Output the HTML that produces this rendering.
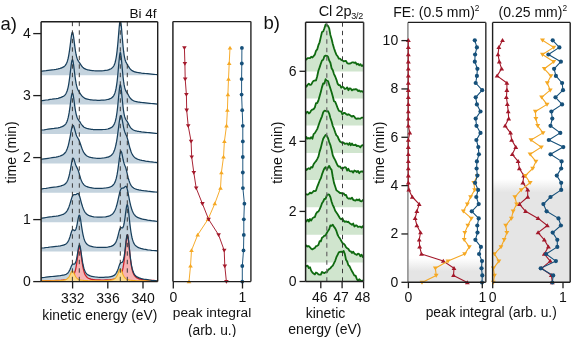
<!DOCTYPE html>
<html><head><meta charset="utf-8"><style>
html,body{margin:0;padding:0;background:#fff;width:571px;height:337px;overflow:hidden}
svg{display:block;will-change:transform}
</style></head><body>
<svg width="571" height="337" viewBox="0 0 571 337">
<rect width="571" height="337" fill="#fff"/>
<g font-family='"Liberation Sans", sans-serif' fill="#111">
<clipPath id="c1"><rect x="41.1" y="21.8" width="116.60" height="259.80"/></clipPath>
<g clip-path="url(#c1)">
<path d="M40.1,71.5 42.1,71.2 44.1,70.9 46.1,70.7 48.1,70.4 50.1,70.1 52.1,69.8 54.1,69.6 56.1,69.3 58.1,68.9 60.1,68.4 60.6,68.2 61.1,68.1 61.6,67.9 62.1,67.7 62.6,67.4 63.1,67.2 63.6,66.9 64.1,66.6 64.6,66.1 65.1,65.6 65.6,65 66.1,64.2 66.6,63.2 67.1,62 67.6,60.4 68.1,58.5 68.6,56.1 69.1,53.2 69.6,49.9 70.1,46.1 70.6,42 71.1,38 71.6,34.6 72.1,32.6 72.6,32.3 73.1,34 73.6,37 74.1,40.8 74.6,44.8 75.1,48.5 75.6,51.8 76.1,54.5 76.6,56.7 77.1,58.4 77.6,59.7 78.1,60.7 78.6,61.5 79.1,62.2 79.6,62.9 80.1,63.6 80.6,64.4 81.1,65.2 81.6,65.9 82.1,66.5 82.6,67.1 83.1,67.6 83.6,68 84.1,68.4 84.6,68.7 85.1,68.9 85.6,69.2 86.1,69.3 86.6,69.5 87.1,69.7 87.6,69.8 88.1,69.9 88.6,70 89.1,70.1 89.6,70.2 90.1,70.3 90.6,70.4 91.1,70.4 91.6,70.5 92.1,70.5 92.6,70.6 93.1,70.6 93.6,70.7 95.6,70.8 97.6,70.9 99.6,70.8 101.6,70.8 103.6,70.7 105.6,70.4 107.6,70.1 108.1,69.9 108.6,69.8 109.1,69.6 109.6,69.4 110.1,69.2 110.6,69 111.1,68.7 111.6,68.3 112.1,67.9 112.6,67.4 113.1,66.8 113.6,66.1 114.1,65.2 114.6,64 115.1,62.5 115.6,60.5 116.1,58 116.6,54.8 117.1,50.9 117.6,46.1 118.1,40.6 118.6,34.4 119.1,28.3 119.6,23.2 120.1,20.4 120.6,20.7 121.1,24 121.6,29.3 122.1,35.5 122.6,41.4 123.1,46.7 123.6,51.2 124.1,54.8 124.6,57.6 125.1,59.7 125.6,61.2 126.1,62.4 126.6,63.3 127.1,64.1 127.6,64.9 128.1,65.8 128.6,66.6 129.1,67.4 129.6,68.2 130.1,68.8 130.6,69.4 131.1,69.8 131.6,70.3 132.1,70.6 132.6,70.9 133.1,71.2 133.6,71.4 134.1,71.6 134.6,71.8 135.1,71.9 135.6,72.1 136.1,72.2 136.6,72.3 137.1,72.4 137.6,72.5 138.1,72.6 138.6,72.7 139.1,72.7 139.6,72.8 140.1,72.9 140.6,72.9 141.1,73 141.6,73.1 143.6,73.3 145.6,73.5 147.6,73.7 149.6,73.9 151.6,74.1 153.6,74.3 155.6,74.5 157.6,74.7 L157.6,75.2 L40.1,75.2Z" fill="#c4d3de"/>
<path d="M40.1,71.5 42.1,71.2 44.1,70.9 46.1,70.7 48.1,70.4 50.1,70.1 52.1,69.8 54.1,69.6 56.1,69.3 58.1,68.9 60.1,68.4 60.6,68.2 61.1,68.1 61.6,67.9 62.1,67.7 62.6,67.4 63.1,67.2 63.6,66.9 64.1,66.6 64.6,66.1 65.1,65.6 65.6,65 66.1,64.2 66.6,63.2 67.1,62 67.6,60.4 68.1,58.5 68.6,56.1 69.1,53.2 69.6,49.9 70.1,46.1 70.6,42 71.1,38 71.6,34.6 72.1,32.6 72.6,32.3 73.1,34 73.6,37 74.1,40.8 74.6,44.8 75.1,48.5 75.6,51.8 76.1,54.5 76.6,56.7 77.1,58.4 77.6,59.7 78.1,60.7 78.6,61.5 79.1,62.2 79.6,62.9 80.1,63.6 80.6,64.4 81.1,65.2 81.6,65.9 82.1,66.5 82.6,67.1 83.1,67.6 83.6,68 84.1,68.4 84.6,68.7 85.1,68.9 85.6,69.2 86.1,69.3 86.6,69.5 87.1,69.7 87.6,69.8 88.1,69.9 88.6,70 89.1,70.1 89.6,70.2 90.1,70.3 90.6,70.4 91.1,70.4 91.6,70.5 92.1,70.5 92.6,70.6 93.1,70.6 93.6,70.7 95.6,70.8 97.6,70.9 99.6,70.8 101.6,70.8 103.6,70.7 105.6,70.4 107.6,70.1 108.1,69.9 108.6,69.8 109.1,69.6 109.6,69.4 110.1,69.2 110.6,69 111.1,68.7 111.6,68.3 112.1,67.9 112.6,67.4 113.1,66.8 113.6,66.1 114.1,65.2 114.6,64 115.1,62.5 115.6,60.5 116.1,58 116.6,54.8 117.1,50.9 117.6,46.1 118.1,40.6 118.6,34.4 119.1,28.3 119.6,23.2 120.1,20.4 120.6,20.7 121.1,24 121.6,29.3 122.1,35.5 122.6,41.4 123.1,46.7 123.6,51.2 124.1,54.8 124.6,57.6 125.1,59.7 125.6,61.2 126.1,62.4 126.6,63.3 127.1,64.1 127.6,64.9 128.1,65.8 128.6,66.6 129.1,67.4 129.6,68.2 130.1,68.8 130.6,69.4 131.1,69.8 131.6,70.3 132.1,70.6 132.6,70.9 133.1,71.2 133.6,71.4 134.1,71.6 134.6,71.8 135.1,71.9 135.6,72.1 136.1,72.2 136.6,72.3 137.1,72.4 137.6,72.5 138.1,72.6 138.6,72.7 139.1,72.7 139.6,72.8 140.1,72.9 140.6,72.9 141.1,73 141.6,73.1 143.6,73.3 145.6,73.5 147.6,73.7 149.6,73.9 151.6,74.1 153.6,74.3 155.6,74.5 157.6,74.7" fill="none" stroke="#183f5c" stroke-width="1.25" stroke-linejoin="round"/>
<path d="M40.1,100.9 42.1,100.6 44.1,100.3 46.1,100 48.1,99.8 50.1,99.4 52.1,99.2 54.1,98.9 56.1,98.7 58.1,98.3 60.1,97.7 60.6,97.6 61.1,97.4 61.6,97.2 62.1,96.9 62.6,96.7 63.1,96.5 63.6,96.2 64.1,95.8 64.6,95.4 65.1,94.8 65.6,94.1 66.1,93.3 66.6,92.3 67.1,91 67.6,89.3 68.1,87.3 68.6,84.8 69.1,81.7 69.6,78.2 70.1,74.2 70.6,69.9 71.1,65.7 71.6,62.2 72.1,60 72.6,59.8 73.1,61.5 73.6,64.8 74.1,68.8 74.6,73 75.1,77 75.6,80.4 76.1,83.4 76.6,85.7 77.1,87.6 77.6,89 78.1,90.1 78.6,91 79.1,91.8 79.6,92.5 80.1,93.3 80.6,94.1 81.1,94.8 81.6,95.5 82.1,96.1 82.6,96.6 83.1,97.1 83.6,97.5 84.1,97.8 84.6,98.1 85.1,98.4 85.6,98.6 86.1,98.8 86.6,98.9 87.1,99.1 87.6,99.2 88.1,99.3 88.6,99.4 89.1,99.5 89.6,99.6 90.1,99.7 90.6,99.8 91.1,99.8 91.6,99.9 92.1,99.9 92.6,100 93.1,100 93.6,100.1 95.6,100.2 97.6,100.3 99.6,100.3 101.6,100.2 103.6,100.1 105.6,99.9 107.6,99.5 108.1,99.4 108.6,99.3 109.1,99.1 109.6,98.9 110.1,98.7 110.6,98.5 111.1,98.2 111.6,97.9 112.1,97.5 112.6,97.1 113.1,96.5 113.6,95.8 114.1,94.9 114.6,93.8 115.1,92.4 115.6,90.5 116.1,88.2 116.6,85.2 117.1,81.5 117.6,77 118.1,71.7 118.6,65.9 119.1,60.2 119.6,55.3 120.1,52.6 120.6,52.9 121.1,56 121.6,61 122.1,66.8 122.6,72.4 123.1,77.3 123.6,81.4 124.1,84.7 124.6,87.2 125.1,89.1 125.6,90.4 126.1,91.4 126.6,92.1 127.1,92.8 127.6,93.6 128.1,94.5 128.6,95.5 129.1,96.4 129.6,97.2 130.1,97.9 130.6,98.5 131.1,99.1 131.6,99.5 132.1,99.9 132.6,100.2 133.1,100.5 133.6,100.8 134.1,101 134.6,101.2 135.1,101.3 135.6,101.5 136.1,101.6 136.6,101.7 137.1,101.8 137.6,101.9 138.1,102 138.6,102.1 139.1,102.1 139.6,102.2 140.1,102.3 140.6,102.4 141.1,102.4 141.6,102.5 143.6,102.7 145.6,102.9 147.6,103.1 149.6,103.3 151.6,103.5 153.6,103.7 155.6,103.9 157.6,104.1 L157.6,104.6 L40.1,104.6Z" fill="#c4d3de"/>
<path d="M40.1,100.9 42.1,100.6 44.1,100.3 46.1,100 48.1,99.8 50.1,99.4 52.1,99.2 54.1,98.9 56.1,98.7 58.1,98.3 60.1,97.7 60.6,97.6 61.1,97.4 61.6,97.2 62.1,96.9 62.6,96.7 63.1,96.5 63.6,96.2 64.1,95.8 64.6,95.4 65.1,94.8 65.6,94.1 66.1,93.3 66.6,92.3 67.1,91 67.6,89.3 68.1,87.3 68.6,84.8 69.1,81.7 69.6,78.2 70.1,74.2 70.6,69.9 71.1,65.7 71.6,62.2 72.1,60 72.6,59.8 73.1,61.5 73.6,64.8 74.1,68.8 74.6,73 75.1,77 75.6,80.4 76.1,83.4 76.6,85.7 77.1,87.6 77.6,89 78.1,90.1 78.6,91 79.1,91.8 79.6,92.5 80.1,93.3 80.6,94.1 81.1,94.8 81.6,95.5 82.1,96.1 82.6,96.6 83.1,97.1 83.6,97.5 84.1,97.8 84.6,98.1 85.1,98.4 85.6,98.6 86.1,98.8 86.6,98.9 87.1,99.1 87.6,99.2 88.1,99.3 88.6,99.4 89.1,99.5 89.6,99.6 90.1,99.7 90.6,99.8 91.1,99.8 91.6,99.9 92.1,99.9 92.6,100 93.1,100 93.6,100.1 95.6,100.2 97.6,100.3 99.6,100.3 101.6,100.2 103.6,100.1 105.6,99.9 107.6,99.5 108.1,99.4 108.6,99.3 109.1,99.1 109.6,98.9 110.1,98.7 110.6,98.5 111.1,98.2 111.6,97.9 112.1,97.5 112.6,97.1 113.1,96.5 113.6,95.8 114.1,94.9 114.6,93.8 115.1,92.4 115.6,90.5 116.1,88.2 116.6,85.2 117.1,81.5 117.6,77 118.1,71.7 118.6,65.9 119.1,60.2 119.6,55.3 120.1,52.6 120.6,52.9 121.1,56 121.6,61 122.1,66.8 122.6,72.4 123.1,77.3 123.6,81.4 124.1,84.7 124.6,87.2 125.1,89.1 125.6,90.4 126.1,91.4 126.6,92.1 127.1,92.8 127.6,93.6 128.1,94.5 128.6,95.5 129.1,96.4 129.6,97.2 130.1,97.9 130.6,98.5 131.1,99.1 131.6,99.5 132.1,99.9 132.6,100.2 133.1,100.5 133.6,100.8 134.1,101 134.6,101.2 135.1,101.3 135.6,101.5 136.1,101.6 136.6,101.7 137.1,101.8 137.6,101.9 138.1,102 138.6,102.1 139.1,102.1 139.6,102.2 140.1,102.3 140.6,102.4 141.1,102.4 141.6,102.5 143.6,102.7 145.6,102.9 147.6,103.1 149.6,103.3 151.6,103.5 153.6,103.7 155.6,103.9 157.6,104.1" fill="none" stroke="#183f5c" stroke-width="1.25" stroke-linejoin="round"/>
<path d="M40.1,130.3 42.1,130 44.1,129.8 46.1,129.5 48.1,129.2 50.1,128.9 52.1,128.6 54.1,128.4 56.1,128.1 58.1,127.8 60.1,127.3 60.6,127.1 61.1,127 61.6,126.8 62.1,126.6 62.6,126.4 63.1,126.1 63.6,125.9 64.1,125.5 64.6,125.1 65.1,124.7 65.6,124.1 66.1,123.3 66.6,122.4 67.1,121.2 67.6,119.7 68.1,117.9 68.6,115.6 69.1,112.9 69.6,109.7 70.1,106.1 70.6,102.2 71.1,98.4 71.6,95.2 72.1,93.3 72.6,93 73.1,94.6 73.6,97.5 74.1,101.1 74.6,104.8 75.1,108.3 75.6,111.3 76.1,113.8 76.6,115.8 77.1,117.4 77.6,118.5 78.1,119.4 78.6,120.1 79.1,120.8 79.6,121.4 80.1,122.2 80.6,123 81.1,123.8 81.6,124.5 82.1,125.2 82.6,125.8 83.1,126.3 83.6,126.8 84.1,127.2 84.6,127.5 85.1,127.7 85.6,128 86.1,128.2 86.6,128.3 87.1,128.5 87.6,128.6 88.1,128.7 88.6,128.8 89.1,128.9 89.6,129 90.1,129.1 90.6,129.2 91.1,129.3 91.6,129.3 92.1,129.4 92.6,129.4 93.1,129.5 93.6,129.5 95.6,129.6 97.6,129.7 99.6,129.7 101.6,129.6 103.6,129.5 105.6,129.3 107.6,129 108.1,128.9 108.6,128.7 109.1,128.6 109.6,128.4 110.1,128.2 110.6,127.9 111.1,127.7 111.6,127.4 112.1,127 112.6,126.5 113.1,126 113.6,125.3 114.1,124.4 114.6,123.3 115.1,121.9 115.6,120.1 116.1,117.9 116.6,115 117.1,111.5 117.6,107.3 118.1,102.4 118.6,97 119.1,91.7 119.6,87.3 120.1,84.9 120.6,85.1 121.1,87.9 121.6,92.4 122.1,97.6 122.6,102.7 123.1,107.3 123.6,111.1 124.1,114.1 124.6,116.4 125.1,118.1 125.6,119.2 126.1,120 126.6,120.7 127.1,121.4 127.6,122.2 128.1,123.1 128.6,124.1 129.1,125.1 129.6,126 130.1,126.9 130.6,127.6 131.1,128.2 131.6,128.7 132.1,129.1 132.6,129.5 133.1,129.8 133.6,130 134.1,130.3 134.6,130.5 135.1,130.7 135.6,130.8 136.1,130.9 136.6,131 137.1,131.2 137.6,131.3 138.1,131.4 138.6,131.4 139.1,131.5 139.6,131.6 140.1,131.7 140.6,131.7 141.1,131.8 141.6,131.9 143.6,132.1 145.6,132.3 147.6,132.5 149.6,132.7 151.6,132.9 153.6,133.1 155.6,133.3 157.6,133.5 L157.6,134 L40.1,134Z" fill="#c4d3de"/>
<path d="M40.1,130.3 42.1,130 44.1,129.8 46.1,129.5 48.1,129.2 50.1,128.9 52.1,128.6 54.1,128.4 56.1,128.1 58.1,127.8 60.1,127.3 60.6,127.1 61.1,127 61.6,126.8 62.1,126.6 62.6,126.4 63.1,126.1 63.6,125.9 64.1,125.5 64.6,125.1 65.1,124.7 65.6,124.1 66.1,123.3 66.6,122.4 67.1,121.2 67.6,119.7 68.1,117.9 68.6,115.6 69.1,112.9 69.6,109.7 70.1,106.1 70.6,102.2 71.1,98.4 71.6,95.2 72.1,93.3 72.6,93 73.1,94.6 73.6,97.5 74.1,101.1 74.6,104.8 75.1,108.3 75.6,111.3 76.1,113.8 76.6,115.8 77.1,117.4 77.6,118.5 78.1,119.4 78.6,120.1 79.1,120.8 79.6,121.4 80.1,122.2 80.6,123 81.1,123.8 81.6,124.5 82.1,125.2 82.6,125.8 83.1,126.3 83.6,126.8 84.1,127.2 84.6,127.5 85.1,127.7 85.6,128 86.1,128.2 86.6,128.3 87.1,128.5 87.6,128.6 88.1,128.7 88.6,128.8 89.1,128.9 89.6,129 90.1,129.1 90.6,129.2 91.1,129.3 91.6,129.3 92.1,129.4 92.6,129.4 93.1,129.5 93.6,129.5 95.6,129.6 97.6,129.7 99.6,129.7 101.6,129.6 103.6,129.5 105.6,129.3 107.6,129 108.1,128.9 108.6,128.7 109.1,128.6 109.6,128.4 110.1,128.2 110.6,127.9 111.1,127.7 111.6,127.4 112.1,127 112.6,126.5 113.1,126 113.6,125.3 114.1,124.4 114.6,123.3 115.1,121.9 115.6,120.1 116.1,117.9 116.6,115 117.1,111.5 117.6,107.3 118.1,102.4 118.6,97 119.1,91.7 119.6,87.3 120.1,84.9 120.6,85.1 121.1,87.9 121.6,92.4 122.1,97.6 122.6,102.7 123.1,107.3 123.6,111.1 124.1,114.1 124.6,116.4 125.1,118.1 125.6,119.2 126.1,120 126.6,120.7 127.1,121.4 127.6,122.2 128.1,123.1 128.6,124.1 129.1,125.1 129.6,126 130.1,126.9 130.6,127.6 131.1,128.2 131.6,128.7 132.1,129.1 132.6,129.5 133.1,129.8 133.6,130 134.1,130.3 134.6,130.5 135.1,130.7 135.6,130.8 136.1,130.9 136.6,131 137.1,131.2 137.6,131.3 138.1,131.4 138.6,131.4 139.1,131.5 139.6,131.6 140.1,131.7 140.6,131.7 141.1,131.8 141.6,131.9 143.6,132.1 145.6,132.3 147.6,132.5 149.6,132.7 151.6,132.9 153.6,133.1 155.6,133.3 157.6,133.5" fill="none" stroke="#183f5c" stroke-width="1.25" stroke-linejoin="round"/>
<path d="M40.1,159.5 42.1,159.2 44.1,158.9 46.1,158.6 48.1,158.3 50.1,158 52.1,157.7 54.1,157.4 56.1,157.1 58.1,156.6 60.1,156 60.6,155.8 61.1,155.6 61.6,155.4 62.1,155.1 62.6,154.9 63.1,154.6 63.6,154.2 64.1,153.8 64.6,153.3 65.1,152.8 65.6,152.1 66.1,151.2 66.6,150.2 67.1,149 67.6,147.6 68.1,146 68.6,144.1 69.1,141.9 69.6,139.5 70.1,136.8 70.6,134 71.1,131.3 71.6,128.8 72.1,126.8 72.6,125.6 73.1,125.3 73.6,125.9 74.1,127.3 74.6,129 75.1,130.9 75.6,132.7 76.1,134.3 76.6,135.7 77.1,136.8 77.6,137.7 78.1,138.5 78.6,139.4 79.1,140.4 79.6,141.6 80.1,143 80.6,144.5 81.1,146 81.6,147.4 82.1,148.8 82.6,150 83.1,151.1 83.6,152.1 84.1,152.9 84.6,153.6 85.1,154.3 85.6,154.8 86.1,155.3 86.6,155.7 87.1,156 87.6,156.3 88.1,156.5 88.6,156.8 89.1,157 89.6,157.1 90.1,157.3 90.6,157.4 91.1,157.5 91.6,157.6 92.1,157.7 92.6,157.8 93.1,157.9 93.6,158 95.6,158.2 97.6,158.3 99.6,158.3 101.6,158.2 103.6,158 105.6,157.7 107.6,157.2 108.1,157.1 108.6,156.9 109.1,156.6 109.6,156.4 110.1,156.1 110.6,155.8 111.1,155.4 111.6,155 112.1,154.4 112.6,153.8 113.1,153.1 113.6,152.2 114.1,151.1 114.6,149.7 115.1,148.1 115.6,146.2 116.1,144 116.6,141.4 117.1,138.3 117.6,134.9 118.1,131.1 118.6,127.1 119.1,123.2 119.6,119.7 120.1,117 120.6,115.6 121.1,115.5 121.6,116.8 122.1,119.1 122.6,121.8 123.1,124.7 123.6,127.3 124.1,129.6 124.6,131.4 125.1,132.8 125.6,133.9 126.1,135 126.6,136.1 127.1,137.5 127.6,139.1 128.1,141 128.6,143 129.1,145.1 129.6,147 130.1,148.8 130.6,150.3 131.1,151.7 131.6,152.9 132.1,154 132.6,154.9 133.1,155.7 133.6,156.3 134.1,156.9 134.6,157.4 135.1,157.8 135.6,158.1 136.1,158.4 136.6,158.7 137.1,159 137.6,159.2 138.1,159.4 138.6,159.5 139.1,159.7 139.6,159.9 140.1,160 140.6,160.1 141.1,160.2 141.6,160.4 143.6,160.7 145.6,161.1 147.6,161.4 149.6,161.7 151.6,161.9 153.6,162.2 155.6,162.4 157.6,162.6 L157.6,163.4 L40.1,163.4Z" fill="#c4d3de"/>
<path d="M40.1,159.5 42.1,159.2 44.1,158.9 46.1,158.6 48.1,158.3 50.1,158 52.1,157.7 54.1,157.4 56.1,157.1 58.1,156.6 60.1,156 60.6,155.8 61.1,155.6 61.6,155.4 62.1,155.1 62.6,154.9 63.1,154.6 63.6,154.2 64.1,153.8 64.6,153.3 65.1,152.8 65.6,152.1 66.1,151.2 66.6,150.2 67.1,149 67.6,147.6 68.1,146 68.6,144.1 69.1,141.9 69.6,139.5 70.1,136.8 70.6,134 71.1,131.3 71.6,128.8 72.1,126.8 72.6,125.6 73.1,125.3 73.6,125.9 74.1,127.3 74.6,129 75.1,130.9 75.6,132.7 76.1,134.3 76.6,135.7 77.1,136.8 77.6,137.7 78.1,138.5 78.6,139.4 79.1,140.4 79.6,141.6 80.1,143 80.6,144.5 81.1,146 81.6,147.4 82.1,148.8 82.6,150 83.1,151.1 83.6,152.1 84.1,152.9 84.6,153.6 85.1,154.3 85.6,154.8 86.1,155.3 86.6,155.7 87.1,156 87.6,156.3 88.1,156.5 88.6,156.8 89.1,157 89.6,157.1 90.1,157.3 90.6,157.4 91.1,157.5 91.6,157.6 92.1,157.7 92.6,157.8 93.1,157.9 93.6,158 95.6,158.2 97.6,158.3 99.6,158.3 101.6,158.2 103.6,158 105.6,157.7 107.6,157.2 108.1,157.1 108.6,156.9 109.1,156.6 109.6,156.4 110.1,156.1 110.6,155.8 111.1,155.4 111.6,155 112.1,154.4 112.6,153.8 113.1,153.1 113.6,152.2 114.1,151.1 114.6,149.7 115.1,148.1 115.6,146.2 116.1,144 116.6,141.4 117.1,138.3 117.6,134.9 118.1,131.1 118.6,127.1 119.1,123.2 119.6,119.7 120.1,117 120.6,115.6 121.1,115.5 121.6,116.8 122.1,119.1 122.6,121.8 123.1,124.7 123.6,127.3 124.1,129.6 124.6,131.4 125.1,132.8 125.6,133.9 126.1,135 126.6,136.1 127.1,137.5 127.6,139.1 128.1,141 128.6,143 129.1,145.1 129.6,147 130.1,148.8 130.6,150.3 131.1,151.7 131.6,152.9 132.1,154 132.6,154.9 133.1,155.7 133.6,156.3 134.1,156.9 134.6,157.4 135.1,157.8 135.6,158.1 136.1,158.4 136.6,158.7 137.1,159 137.6,159.2 138.1,159.4 138.6,159.5 139.1,159.7 139.6,159.9 140.1,160 140.6,160.1 141.1,160.2 141.6,160.4 143.6,160.7 145.6,161.1 147.6,161.4 149.6,161.7 151.6,161.9 153.6,162.2 155.6,162.4 157.6,162.6" fill="none" stroke="#183f5c" stroke-width="1.25" stroke-linejoin="round"/>
<path d="M40.1,189.1 42.1,188.8 44.1,188.5 46.1,188.3 48.1,188 50.1,187.7 52.1,187.4 54.1,187.2 56.1,187 58.1,186.6 60.1,186.2 60.6,186 61.1,185.9 61.6,185.7 62.1,185.5 62.6,185.4 63.1,185.2 63.6,185 64.1,184.7 64.6,184.4 65.1,184 65.6,183.6 66.1,183 66.6,182.3 67.1,181.5 67.6,180.4 68.1,179.2 68.6,177.6 69.1,175.8 69.6,173.7 70.1,171.2 70.6,168.5 71.1,165.6 71.6,162.8 72.1,160.4 72.6,158.8 73.1,158.2 73.6,158.6 74.1,159.8 74.6,161.4 75.1,163.1 75.6,164.6 76.1,165.9 76.6,166.9 77.1,167.9 77.6,168.9 78.1,170.1 78.6,171.6 79.1,173.3 79.6,175.1 80.1,176.8 80.6,178.4 81.1,179.8 81.6,181 82.1,182.1 82.6,183 83.1,183.7 83.6,184.4 84.1,184.9 84.6,185.3 85.1,185.7 85.6,186 86.1,186.3 86.6,186.5 87.1,186.7 87.6,186.9 88.1,187.1 88.6,187.2 89.1,187.3 89.6,187.5 90.1,187.6 90.6,187.7 91.1,187.7 91.6,187.8 92.1,187.9 92.6,188 93.1,188 93.6,188.1 95.6,188.3 97.6,188.3 99.6,188.3 101.6,188.3 103.6,188.2 105.6,188 107.6,187.7 108.1,187.6 108.6,187.5 109.1,187.3 109.6,187.2 110.1,187 110.6,186.8 111.1,186.5 111.6,186.3 112.1,185.9 112.6,185.5 113.1,185.1 113.6,184.5 114.1,183.8 114.6,182.9 115.1,181.9 115.6,180.5 116.1,178.9 116.6,176.8 117.1,174.4 117.6,171.5 118.1,168.2 118.6,164.4 119.1,160.5 119.6,156.7 120.1,153.5 120.6,151.6 121.1,151.2 121.6,152.2 122.1,154.4 122.6,156.9 123.1,159.5 123.6,161.7 124.1,163.4 124.6,164.8 125.1,166.1 125.6,167.4 126.1,169 126.6,171 127.1,173.1 127.6,175.3 128.1,177.4 128.6,179.3 129.1,180.9 129.6,182.3 130.1,183.5 130.6,184.6 131.1,185.4 131.6,186.1 132.1,186.7 132.6,187.2 133.1,187.6 133.6,188 134.1,188.3 134.6,188.5 135.1,188.8 135.6,189 136.1,189.2 136.6,189.3 137.1,189.5 137.6,189.6 138.1,189.7 138.6,189.8 139.1,190 139.6,190.1 140.1,190.1 140.6,190.2 141.1,190.3 141.6,190.4 143.6,190.7 145.6,190.9 147.6,191.2 149.6,191.4 151.6,191.6 153.6,191.8 155.6,192 157.6,192.2 L157.6,192.8 L40.1,192.8Z" fill="#c4d3de"/>
<path d="M40.1,189.1 42.1,188.8 44.1,188.5 46.1,188.3 48.1,188 50.1,187.7 52.1,187.4 54.1,187.2 56.1,187 58.1,186.6 60.1,186.2 60.6,186 61.1,185.9 61.6,185.7 62.1,185.5 62.6,185.4 63.1,185.2 63.6,185 64.1,184.7 64.6,184.4 65.1,184 65.6,183.6 66.1,183 66.6,182.3 67.1,181.5 67.6,180.4 68.1,179.2 68.6,177.6 69.1,175.8 69.6,173.7 70.1,171.2 70.6,168.5 71.1,165.6 71.6,162.8 72.1,160.4 72.6,158.8 73.1,158.2 73.6,158.6 74.1,159.8 74.6,161.4 75.1,163.1 75.6,164.6 76.1,165.9 76.6,166.9 77.1,167.9 77.6,168.9 78.1,170.1 78.6,171.6 79.1,173.3 79.6,175.1 80.1,176.8 80.6,178.4 81.1,179.8 81.6,181 82.1,182.1 82.6,183 83.1,183.7 83.6,184.4 84.1,184.9 84.6,185.3 85.1,185.7 85.6,186 86.1,186.3 86.6,186.5 87.1,186.7 87.6,186.9 88.1,187.1 88.6,187.2 89.1,187.3 89.6,187.5 90.1,187.6 90.6,187.7 91.1,187.7 91.6,187.8 92.1,187.9 92.6,188 93.1,188 93.6,188.1 95.6,188.3 97.6,188.3 99.6,188.3 101.6,188.3 103.6,188.2 105.6,188 107.6,187.7 108.1,187.6 108.6,187.5 109.1,187.3 109.6,187.2 110.1,187 110.6,186.8 111.1,186.5 111.6,186.3 112.1,185.9 112.6,185.5 113.1,185.1 113.6,184.5 114.1,183.8 114.6,182.9 115.1,181.9 115.6,180.5 116.1,178.9 116.6,176.8 117.1,174.4 117.6,171.5 118.1,168.2 118.6,164.4 119.1,160.5 119.6,156.7 120.1,153.5 120.6,151.6 121.1,151.2 121.6,152.2 122.1,154.4 122.6,156.9 123.1,159.5 123.6,161.7 124.1,163.4 124.6,164.8 125.1,166.1 125.6,167.4 126.1,169 126.6,171 127.1,173.1 127.6,175.3 128.1,177.4 128.6,179.3 129.1,180.9 129.6,182.3 130.1,183.5 130.6,184.6 131.1,185.4 131.6,186.1 132.1,186.7 132.6,187.2 133.1,187.6 133.6,188 134.1,188.3 134.6,188.5 135.1,188.8 135.6,189 136.1,189.2 136.6,189.3 137.1,189.5 137.6,189.6 138.1,189.7 138.6,189.8 139.1,190 139.6,190.1 140.1,190.1 140.6,190.2 141.1,190.3 141.6,190.4 143.6,190.7 145.6,190.9 147.6,191.2 149.6,191.4 151.6,191.6 153.6,191.8 155.6,192 157.6,192.2" fill="none" stroke="#183f5c" stroke-width="1.25" stroke-linejoin="round"/>
<path d="M40.1,218.4 42.1,218.1 44.1,217.8 46.1,217.5 48.1,217.2 50.1,216.9 52.1,216.7 54.1,216.4 56.1,216.2 58.1,215.8 60.1,215.3 60.6,215.2 61.1,215 61.6,214.9 62.1,214.7 62.6,214.5 63.1,214.3 63.6,214.1 64.1,213.8 64.6,213.5 65.1,213.1 65.6,212.7 66.1,212.1 66.6,211.5 67.1,210.8 67.6,209.9 68.1,208.9 68.6,207.7 69.1,206.4 69.6,205 70.1,203.4 70.6,201.7 71.1,200 71.6,198.4 72.1,196.9 72.6,195.9 73.1,195.1 73.6,194.8 74.1,194.7 74.6,194.7 75.1,194.7 75.6,194.6 76.1,194.4 76.6,194.1 77.1,193.7 77.6,193.5 78.1,193.5 78.6,194 79.1,194.9 79.6,196.3 80.1,198 80.6,199.9 81.1,201.8 81.6,203.6 82.1,205.3 82.6,206.9 83.1,208.3 83.6,209.5 84.1,210.6 84.6,211.5 85.1,212.3 85.6,212.9 86.1,213.5 86.6,214 87.1,214.4 87.6,214.7 88.1,215.1 88.6,215.3 89.1,215.5 89.6,215.8 90.1,215.9 90.6,216.1 91.1,216.2 91.6,216.4 92.1,216.5 92.6,216.6 93.1,216.7 93.6,216.8 95.6,217 97.6,217.2 99.6,217.2 101.6,217.2 103.6,217 105.6,216.8 107.6,216.4 108.1,216.3 108.6,216.1 109.1,216 109.6,215.8 110.1,215.6 110.6,215.3 111.1,215 111.6,214.7 112.1,214.3 112.6,213.9 113.1,213.3 113.6,212.7 114.1,211.9 114.6,211 115.1,210 115.6,208.8 116.1,207.4 116.6,205.8 117.1,203.9 117.6,201.9 118.1,199.7 118.6,197.4 119.1,195.1 119.6,192.9 120.1,191.1 120.6,189.7 121.1,188.8 121.6,188.3 122.1,188.2 122.6,188.2 123.1,188.1 123.6,187.9 124.1,187.6 124.6,187.1 125.1,186.6 125.6,186.3 126.1,186.4 126.6,187.2 127.1,188.6 127.6,190.6 128.1,193 128.6,195.6 129.1,198.2 129.6,200.8 130.1,203.1 130.6,205.2 131.1,207.1 131.6,208.8 132.1,210.2 132.6,211.5 133.1,212.6 133.6,213.5 134.1,214.3 134.6,214.9 135.1,215.5 135.6,216 136.1,216.4 136.6,216.8 137.1,217.1 137.6,217.4 138.1,217.6 138.6,217.8 139.1,218 139.6,218.2 140.1,218.4 140.6,218.6 141.1,218.7 141.6,218.9 143.6,219.3 145.6,219.7 147.6,220.1 149.6,220.4 151.6,220.7 153.6,220.9 155.6,221.2 157.6,221.4 L157.6,222.2 L40.1,222.2Z" fill="#c4d3de"/>
<path d="M40.1,218.4 42.1,218.1 44.1,217.8 46.1,217.5 48.1,217.2 50.1,216.9 52.1,216.7 54.1,216.4 56.1,216.2 58.1,215.8 60.1,215.3 60.6,215.2 61.1,215 61.6,214.9 62.1,214.7 62.6,214.5 63.1,214.3 63.6,214.1 64.1,213.8 64.6,213.5 65.1,213.1 65.6,212.7 66.1,212.1 66.6,211.5 67.1,210.8 67.6,209.9 68.1,208.9 68.6,207.7 69.1,206.4 69.6,205 70.1,203.4 70.6,201.7 71.1,200 71.6,198.4 72.1,196.9 72.6,195.9 73.1,195.1 73.6,194.8 74.1,194.7 74.6,194.7 75.1,194.7 75.6,194.6 76.1,194.4 76.6,194.1 77.1,193.7 77.6,193.5 78.1,193.5 78.6,194 79.1,194.9 79.6,196.3 80.1,198 80.6,199.9 81.1,201.8 81.6,203.6 82.1,205.3 82.6,206.9 83.1,208.3 83.6,209.5 84.1,210.6 84.6,211.5 85.1,212.3 85.6,212.9 86.1,213.5 86.6,214 87.1,214.4 87.6,214.7 88.1,215.1 88.6,215.3 89.1,215.5 89.6,215.8 90.1,215.9 90.6,216.1 91.1,216.2 91.6,216.4 92.1,216.5 92.6,216.6 93.1,216.7 93.6,216.8 95.6,217 97.6,217.2 99.6,217.2 101.6,217.2 103.6,217 105.6,216.8 107.6,216.4 108.1,216.3 108.6,216.1 109.1,216 109.6,215.8 110.1,215.6 110.6,215.3 111.1,215 111.6,214.7 112.1,214.3 112.6,213.9 113.1,213.3 113.6,212.7 114.1,211.9 114.6,211 115.1,210 115.6,208.8 116.1,207.4 116.6,205.8 117.1,203.9 117.6,201.9 118.1,199.7 118.6,197.4 119.1,195.1 119.6,192.9 120.1,191.1 120.6,189.7 121.1,188.8 121.6,188.3 122.1,188.2 122.6,188.2 123.1,188.1 123.6,187.9 124.1,187.6 124.6,187.1 125.1,186.6 125.6,186.3 126.1,186.4 126.6,187.2 127.1,188.6 127.6,190.6 128.1,193 128.6,195.6 129.1,198.2 129.6,200.8 130.1,203.1 130.6,205.2 131.1,207.1 131.6,208.8 132.1,210.2 132.6,211.5 133.1,212.6 133.6,213.5 134.1,214.3 134.6,214.9 135.1,215.5 135.6,216 136.1,216.4 136.6,216.8 137.1,217.1 137.6,217.4 138.1,217.6 138.6,217.8 139.1,218 139.6,218.2 140.1,218.4 140.6,218.6 141.1,218.7 141.6,218.9 143.6,219.3 145.6,219.7 147.6,220.1 149.6,220.4 151.6,220.7 153.6,220.9 155.6,221.2 157.6,221.4" fill="none" stroke="#183f5c" stroke-width="1.25" stroke-linejoin="round"/>
<path d="M40.1,248.2 42.1,248 44.1,247.8 46.1,247.5 48.1,247.3 50.1,247 52.1,246.8 54.1,246.6 56.1,246.4 58.1,246.2 60.1,245.9 60.6,245.8 61.1,245.7 61.6,245.5 62.1,245.4 62.6,245.3 63.1,245.2 63.6,245.1 64.1,244.9 64.6,244.7 65.1,244.5 65.6,244.2 66.1,243.8 66.6,243.4 67.1,242.9 67.6,242.2 68.1,241.4 68.6,240.5 69.1,239.3 69.6,237.9 70.1,236.4 70.6,234.7 71.1,233 71.6,231.4 72.1,230.3 72.6,229.7 73.1,229.7 73.6,230 74.1,230.4 74.6,230.6 75.1,230.4 75.6,229.8 76.1,228.5 76.6,226.7 77.1,224.3 77.6,221.6 78.1,218.9 78.6,216.6 79.1,215.2 79.6,215.3 80.1,216.9 80.6,219.7 81.1,223 81.6,226.5 82.1,229.7 82.6,232.6 83.1,235.1 83.6,237.2 84.1,239 84.6,240.4 85.1,241.5 85.6,242.4 86.1,243.2 86.6,243.8 87.1,244.3 87.6,244.7 88.1,245 88.6,245.3 89.1,245.6 89.6,245.8 90.1,246 90.6,246.1 91.1,246.3 91.6,246.4 92.1,246.6 92.6,246.7 93.1,246.8 93.6,246.9 95.6,247.2 97.6,247.3 99.6,247.4 101.6,247.4 103.6,247.4 105.6,247.3 107.6,247.1 108.1,247 108.6,246.9 109.1,246.8 109.6,246.7 110.1,246.6 110.6,246.5 111.1,246.3 111.6,246.1 112.1,245.9 112.6,245.7 113.1,245.4 113.6,245 114.1,244.6 114.6,244 115.1,243.4 115.6,242.6 116.1,241.6 116.6,240.4 117.1,239 117.6,237.3 118.1,235.4 118.6,233.4 119.1,231.4 119.6,229.7 120.1,228.4 120.6,227.7 121.1,227.6 121.6,227.8 122.1,227.9 122.6,227.8 123.1,227.1 123.6,225.7 124.1,223.5 124.6,220.6 125.1,217.1 125.6,213.2 126.1,209.3 126.6,206.2 127.1,204.7 127.6,205.2 128.1,207.7 128.6,211.7 129.1,216.4 129.6,221.2 130.1,225.6 130.6,229.5 131.1,232.9 131.6,235.7 132.1,238 132.6,239.9 133.1,241.4 133.6,242.6 134.1,243.6 134.6,244.4 135.1,245.1 135.6,245.6 136.1,246.1 136.6,246.5 137.1,246.8 137.6,247.1 138.1,247.4 138.6,247.6 139.1,247.8 139.6,248 140.1,248.2 140.6,248.4 141.1,248.5 141.6,248.6 143.6,249.1 145.6,249.4 147.6,249.8 149.6,250 151.6,250.3 153.6,250.5 155.6,250.7 157.6,250.9 L157.6,251.6 L40.1,251.6Z" fill="#c4d3de"/>
<path d="M40.1,248.2 42.1,248 44.1,247.8 46.1,247.5 48.1,247.3 50.1,247 52.1,246.8 54.1,246.6 56.1,246.4 58.1,246.2 60.1,245.9 60.6,245.8 61.1,245.7 61.6,245.5 62.1,245.4 62.6,245.3 63.1,245.2 63.6,245.1 64.1,244.9 64.6,244.7 65.1,244.5 65.6,244.2 66.1,243.8 66.6,243.4 67.1,242.9 67.6,242.2 68.1,241.4 68.6,240.5 69.1,239.3 69.6,237.9 70.1,236.4 70.6,234.7 71.1,233 71.6,231.4 72.1,230.3 72.6,229.7 73.1,229.7 73.6,230 74.1,230.4 74.6,230.6 75.1,230.4 75.6,229.8 76.1,228.5 76.6,226.7 77.1,224.3 77.6,221.6 78.1,218.9 78.6,216.6 79.1,215.2 79.6,215.3 80.1,216.9 80.6,219.7 81.1,223 81.6,226.5 82.1,229.7 82.6,232.6 83.1,235.1 83.6,237.2 84.1,239 84.6,240.4 85.1,241.5 85.6,242.4 86.1,243.2 86.6,243.8 87.1,244.3 87.6,244.7 88.1,245 88.6,245.3 89.1,245.6 89.6,245.8 90.1,246 90.6,246.1 91.1,246.3 91.6,246.4 92.1,246.6 92.6,246.7 93.1,246.8 93.6,246.9 95.6,247.2 97.6,247.3 99.6,247.4 101.6,247.4 103.6,247.4 105.6,247.3 107.6,247.1 108.1,247 108.6,246.9 109.1,246.8 109.6,246.7 110.1,246.6 110.6,246.5 111.1,246.3 111.6,246.1 112.1,245.9 112.6,245.7 113.1,245.4 113.6,245 114.1,244.6 114.6,244 115.1,243.4 115.6,242.6 116.1,241.6 116.6,240.4 117.1,239 117.6,237.3 118.1,235.4 118.6,233.4 119.1,231.4 119.6,229.7 120.1,228.4 120.6,227.7 121.1,227.6 121.6,227.8 122.1,227.9 122.6,227.8 123.1,227.1 123.6,225.7 124.1,223.5 124.6,220.6 125.1,217.1 125.6,213.2 126.1,209.3 126.6,206.2 127.1,204.7 127.6,205.2 128.1,207.7 128.6,211.7 129.1,216.4 129.6,221.2 130.1,225.6 130.6,229.5 131.1,232.9 131.6,235.7 132.1,238 132.6,239.9 133.1,241.4 133.6,242.6 134.1,243.6 134.6,244.4 135.1,245.1 135.6,245.6 136.1,246.1 136.6,246.5 137.1,246.8 137.6,247.1 138.1,247.4 138.6,247.6 139.1,247.8 139.6,248 140.1,248.2 140.6,248.4 141.1,248.5 141.6,248.6 143.6,249.1 145.6,249.4 147.6,249.8 149.6,250 151.6,250.3 153.6,250.5 155.6,250.7 157.6,250.9" fill="none" stroke="#183f5c" stroke-width="1.25" stroke-linejoin="round"/>
<path d="M40.1,277.9 42.1,277.7 44.1,277.5 46.1,277.2 48.1,276.9 50.1,276.7 52.1,276.5 54.1,276.3 56.1,276.1 58.1,275.9 60.1,275.7 60.6,275.6 61.1,275.5 61.6,275.4 62.1,275.3 62.6,275.2 63.1,275.2 63.6,275.1 64.1,275 64.6,274.8 65.1,274.7 65.6,274.5 66.1,274.3 66.6,274 67.1,273.6 67.6,273.2 68.1,272.7 68.6,272 69.1,271.2 69.6,270.2 70.1,269.2 70.6,268 71.1,266.7 71.6,265.6 72.1,264.7 72.6,264.2 73.1,264 73.6,264.1 74.1,264.1 74.6,264 75.1,263.4 75.6,262.4 76.1,260.9 76.6,258.8 77.1,256.1 77.6,253.1 78.1,249.9 78.6,247.1 79.1,245.3 79.6,244.9 80.1,246.2 80.6,248.9 81.1,252.3 81.6,255.9 82.1,259.3 82.6,262.4 83.1,265 83.6,267.1 84.1,268.9 84.6,270.3 85.1,271.5 85.6,272.4 86.1,273.1 86.6,273.7 87.1,274.2 87.6,274.6 88.1,274.9 88.6,275.2 89.1,275.4 89.6,275.7 90.1,275.8 90.6,276 91.1,276.2 91.6,276.3 92.1,276.4 92.6,276.5 93.1,276.6 93.6,276.7 95.6,277 97.6,277.2 99.6,277.3 101.6,277.3 103.6,277.3 105.6,277.2 107.6,277.1 108.1,277 108.6,277 109.1,276.9 109.6,276.8 110.1,276.8 110.6,276.7 111.1,276.6 111.6,276.4 112.1,276.3 112.6,276.1 113.1,275.9 113.6,275.7 114.1,275.4 114.6,275 115.1,274.5 115.6,274 116.1,273.3 116.6,272.4 117.1,271.4 117.6,270.2 118.1,268.9 118.6,267.4 119.1,265.9 119.6,264.5 120.1,263.5 120.6,262.9 121.1,262.6 121.6,262.5 122.1,262.3 122.6,261.8 123.1,260.7 123.6,259 124.1,256.6 124.6,253.4 125.1,249.6 125.6,245.2 126.1,240.8 126.6,237.1 127.1,234.9 127.6,234.8 128.1,237.1 128.6,241 129.1,245.9 129.6,250.8 130.1,255.4 130.6,259.5 131.1,263 131.6,265.9 132.1,268.2 132.6,270.1 133.1,271.6 133.6,272.8 134.1,273.8 134.6,274.6 135.1,275.2 135.6,275.7 136.1,276.2 136.6,276.6 137.1,276.9 137.6,277.2 138.1,277.4 138.6,277.7 139.1,277.9 139.6,278.1 140.1,278.2 140.6,278.4 141.1,278.5 141.6,278.7 143.6,279.1 145.6,279.4 147.6,279.7 149.6,280 151.6,280.3 153.6,280.5 155.6,280.7 157.6,281 L157.6,281.6 L40.1,281.6Z" fill="#c4d3de"/>
<path d="M40.1,280.8 42.1,280.8 44.1,280.8 46.1,280.7 48.1,280.7 50.1,280.7 52.1,280.6 54.1,280.6 56.1,280.5 58.1,280.4 60.1,280.3 60.6,280.3 61.1,280.3 61.6,280.2 62.1,280.2 62.6,280.1 63.1,280.1 63.6,280 64.1,280 64.6,279.9 65.1,279.9 65.6,279.8 66.1,279.7 66.6,279.6 67.1,279.5 67.6,279.4 68.1,279.3 68.6,279.1 69.1,278.9 69.6,278.8 70.1,278.5 70.6,278.3 71.1,278 71.6,277.6 72.1,277.2 72.6,276.7 73.1,276 73.6,275.2 74.1,274.2 74.6,272.9 75.1,271.3 75.6,269.3 76.1,266.8 76.6,263.9 77.1,260.5 77.6,256.8 78.1,253 78.6,249.7 79.1,247.5 79.6,246.9 80.1,248.2 80.6,250.9 81.1,254.5 81.6,258.3 82.1,261.9 82.6,265.1 83.1,267.8 83.6,270.1 84.1,271.9 84.6,273.4 85.1,274.6 85.6,275.5 86.1,276.2 86.6,276.8 87.1,277.3 87.6,277.7 88.1,278 88.6,278.3 89.1,278.5 89.6,278.7 90.1,278.9 90.6,279 91.1,279.2 91.6,279.3 92.1,279.4 92.6,279.5 93.1,279.6 93.6,279.6 95.6,279.8 97.6,280 99.6,280 101.6,280.1 103.6,280.1 105.6,280 107.6,279.9 108.1,279.9 108.6,279.9 109.1,279.8 109.6,279.8 110.1,279.8 110.6,279.7 111.1,279.6 111.6,279.6 112.1,279.5 112.6,279.4 113.1,279.3 113.6,279.2 114.1,279.1 114.6,279 115.1,278.9 115.6,278.7 116.1,278.6 116.6,278.4 117.1,278.1 117.6,277.9 118.1,277.6 118.6,277.2 119.1,276.8 119.6,276.3 120.1,275.7 120.6,275 121.1,274.1 121.6,272.9 122.1,271.5 122.6,269.7 123.1,267.4 123.6,264.5 124.1,261.1 124.6,257 125.1,252.4 125.6,247.3 126.1,242.2 126.6,238 127.1,235.4 127.6,235.1 128.1,237.3 128.6,241.3 129.1,246.3 129.6,251.4 130.1,256.2 130.6,260.4 131.1,263.9 131.6,266.9 132.1,269.3 132.6,271.2 133.1,272.7 133.6,273.9 134.1,274.9 134.6,275.7 135.1,276.3 135.6,276.8 136.1,277.2 136.6,277.6 137.1,277.9 137.6,278.2 138.1,278.4 138.6,278.6 139.1,278.8 139.6,279 140.1,279.1 140.6,279.2 141.1,279.4 141.6,279.5 143.6,279.8 145.6,280 147.6,280.2 149.6,280.3 151.6,280.4 153.6,280.5 155.6,280.6 157.6,280.6 L157.6,281.6 L40.1,281.6Z" fill="#f7b3b3" stroke="#cc2229" stroke-width="1.3"/>
<path d="M40.1,280.9 42.1,280.9 44.1,280.9 46.1,280.9 48.1,280.9 50.1,280.9 52.1,280.8 54.1,280.8 56.1,280.7 58.1,280.7 60.1,280.6 60.6,280.5 61.1,280.5 61.6,280.4 62.1,280.4 62.6,280.3 63.1,280.3 63.6,280.2 64.1,280.1 64.6,280 65.1,279.9 65.6,279.7 66.1,279.5 66.6,279.2 67.1,278.9 67.6,278.5 68.1,278 68.6,277.4 69.1,276.7 69.6,275.8 70.1,274.8 70.6,273.7 71.1,272.6 71.6,271.6 72.1,271.1 72.6,271 73.1,271.5 73.6,272.4 74.1,273.4 74.6,274.5 75.1,275.6 75.6,276.5 76.1,277.3 76.6,277.9 77.1,278.4 77.6,278.8 78.1,279.2 78.6,279.4 79.1,279.6 79.6,279.8 80.1,279.9 80.6,280.1 81.1,280.1 81.6,280.2 82.1,280.3 82.6,280.3 83.1,280.4 83.6,280.4 84.1,280.5 84.6,280.5 85.1,280.5 85.6,280.6 86.1,280.6 86.6,280.6 87.1,280.6 87.6,280.6 88.1,280.7 88.6,280.7 89.1,280.7 89.6,280.7 90.1,280.7 90.6,280.7 91.1,280.7 91.6,280.7 92.1,280.7 92.6,280.7 93.1,280.7 93.6,280.7 95.6,280.7 97.6,280.7 99.6,280.7 101.6,280.7 103.6,280.7 105.6,280.6 107.6,280.5 108.1,280.4 108.6,280.4 109.1,280.3 109.6,280.3 110.1,280.2 110.6,280.2 111.1,280.1 111.6,280 112.1,279.9 112.6,279.7 113.1,279.6 113.6,279.4 114.1,279.1 114.6,278.8 115.1,278.4 115.6,277.9 116.1,277.3 116.6,276.5 117.1,275.6 117.6,274.5 118.1,273.3 118.6,271.9 119.1,270.6 119.6,269.6 120.1,269 120.6,269.1 121.1,269.8 121.6,270.9 122.1,272.2 122.6,273.5 123.1,274.7 123.6,275.8 124.1,276.7 124.6,277.5 125.1,278 125.6,278.5 126.1,278.9 126.6,279.2 127.1,279.4 127.6,279.6 128.1,279.8 128.6,279.9 129.1,280 129.6,280.1 130.1,280.2 130.6,280.3 131.1,280.3 131.6,280.4 132.1,280.4 132.6,280.5 133.1,280.5 133.6,280.5 134.1,280.6 134.6,280.6 135.1,280.6 135.6,280.7 136.1,280.7 136.6,280.7 137.1,280.7 137.6,280.7 138.1,280.7 138.6,280.7 139.1,280.8 139.6,280.8 140.1,280.8 140.6,280.8 141.1,280.8 141.6,280.8 143.6,280.8 145.6,280.9 147.6,280.9 149.6,280.9 151.6,280.9 153.6,280.9 155.6,280.9 157.6,280.9 L157.6,281.6 L40.1,281.6Z" fill="#fbd98c" stroke="#f2ad22" stroke-width="1.1"/>
<path d="M40.1,277.9 42.1,277.7 44.1,277.5 46.1,277.2 48.1,276.9 50.1,276.7 52.1,276.5 54.1,276.3 56.1,276.1 58.1,275.9 60.1,275.7 60.6,275.6 61.1,275.5 61.6,275.4 62.1,275.3 62.6,275.2 63.1,275.2 63.6,275.1 64.1,275 64.6,274.8 65.1,274.7 65.6,274.5 66.1,274.3 66.6,274 67.1,273.6 67.6,273.2 68.1,272.7 68.6,272 69.1,271.2 69.6,270.2 70.1,269.2 70.6,268 71.1,266.7 71.6,265.6 72.1,264.7 72.6,264.2 73.1,264 73.6,264.1 74.1,264.1 74.6,264 75.1,263.4 75.6,262.4 76.1,260.9 76.6,258.8 77.1,256.1 77.6,253.1 78.1,249.9 78.6,247.1 79.1,245.3 79.6,244.9 80.1,246.2 80.6,248.9 81.1,252.3 81.6,255.9 82.1,259.3 82.6,262.4 83.1,265 83.6,267.1 84.1,268.9 84.6,270.3 85.1,271.5 85.6,272.4 86.1,273.1 86.6,273.7 87.1,274.2 87.6,274.6 88.1,274.9 88.6,275.2 89.1,275.4 89.6,275.7 90.1,275.8 90.6,276 91.1,276.2 91.6,276.3 92.1,276.4 92.6,276.5 93.1,276.6 93.6,276.7 95.6,277 97.6,277.2 99.6,277.3 101.6,277.3 103.6,277.3 105.6,277.2 107.6,277.1 108.1,277 108.6,277 109.1,276.9 109.6,276.8 110.1,276.8 110.6,276.7 111.1,276.6 111.6,276.4 112.1,276.3 112.6,276.1 113.1,275.9 113.6,275.7 114.1,275.4 114.6,275 115.1,274.5 115.6,274 116.1,273.3 116.6,272.4 117.1,271.4 117.6,270.2 118.1,268.9 118.6,267.4 119.1,265.9 119.6,264.5 120.1,263.5 120.6,262.9 121.1,262.6 121.6,262.5 122.1,262.3 122.6,261.8 123.1,260.7 123.6,259 124.1,256.6 124.6,253.4 125.1,249.6 125.6,245.2 126.1,240.8 126.6,237.1 127.1,234.9 127.6,234.8 128.1,237.1 128.6,241 129.1,245.9 129.6,250.8 130.1,255.4 130.6,259.5 131.1,263 131.6,265.9 132.1,268.2 132.6,270.1 133.1,271.6 133.6,272.8 134.1,273.8 134.6,274.6 135.1,275.2 135.6,275.7 136.1,276.2 136.6,276.6 137.1,276.9 137.6,277.2 138.1,277.4 138.6,277.7 139.1,277.9 139.6,278.1 140.1,278.2 140.6,278.4 141.1,278.5 141.6,278.7 143.6,279.1 145.6,279.4 147.6,279.7 149.6,280 151.6,280.3 153.6,280.5 155.6,280.7 157.6,281" fill="none" stroke="#183f5c" stroke-width="1.25" stroke-linejoin="round"/>
</g>
<line x1="72.4" y1="21.8" x2="72.4" y2="281.6" stroke="#333" stroke-width="0.95" stroke-dasharray="4.4,4.1"/>
<line x1="79.3" y1="21.8" x2="79.3" y2="281.6" stroke="#333" stroke-width="0.95" stroke-dasharray="4.4,4.1"/>
<line x1="120.3" y1="21.8" x2="120.3" y2="281.6" stroke="#333" stroke-width="0.95" stroke-dasharray="4.4,4.1"/>
<line x1="127.3" y1="21.8" x2="127.3" y2="281.6" stroke="#333" stroke-width="0.95" stroke-dasharray="4.4,4.1"/>
<line x1="41.1" y1="21.8" x2="157.7" y2="21.8" stroke="#1e1e1e" stroke-width="1.4" />
<line x1="41.1" y1="281.6" x2="157.7" y2="281.6" stroke="#1e1e1e" stroke-width="1.4" />
<line x1="41.1" y1="21.8" x2="41.1" y2="281.6" stroke="#1e1e1e" stroke-width="1.5" />
<line x1="157.7" y1="21.8" x2="157.7" y2="281.6" stroke="#1e1e1e" stroke-width="1.4" />
<line x1="33.2" y1="281.6" x2="41.1" y2="281.6" stroke="#1e1e1e" stroke-width="1.3" />
<text x="30.80" y="285.50" font-size="14" text-anchor="end" >0</text>
<line x1="33.2" y1="219.60000000000002" x2="41.1" y2="219.60000000000002" stroke="#1e1e1e" stroke-width="1.3" />
<text x="30.80" y="223.50" font-size="14" text-anchor="end" >1</text>
<line x1="33.2" y1="157.60000000000002" x2="41.1" y2="157.60000000000002" stroke="#1e1e1e" stroke-width="1.3" />
<text x="30.80" y="161.50" font-size="14" text-anchor="end" >2</text>
<line x1="33.2" y1="95.60000000000002" x2="41.1" y2="95.60000000000002" stroke="#1e1e1e" stroke-width="1.3" />
<text x="30.80" y="99.50" font-size="14" text-anchor="end" >3</text>
<line x1="33.2" y1="33.60000000000002" x2="41.1" y2="33.60000000000002" stroke="#1e1e1e" stroke-width="1.3" />
<text x="30.80" y="37.50" font-size="14" text-anchor="end" >4</text>
<line x1="72.6" y1="281.6" x2="72.6" y2="288.5" stroke="#1e1e1e" stroke-width="1.3" />
<text x="72.80" y="302.60" font-size="14" text-anchor="middle" >332</text>
<line x1="107.8" y1="281.6" x2="107.8" y2="288.5" stroke="#1e1e1e" stroke-width="1.3" />
<text x="108.00" y="302.60" font-size="14" text-anchor="middle" >336</text>
<line x1="143.0" y1="281.6" x2="143.0" y2="288.5" stroke="#1e1e1e" stroke-width="1.3" />
<text x="143.20" y="302.60" font-size="14" text-anchor="middle" >340</text>
<text x="99.80" y="319.60" font-size="13.8" text-anchor="middle" >kinetic energy (eV)</text>
<text x="0.00" y="0.00" font-size="14" text-anchor="middle" transform="translate(15.6,152.4) rotate(-90)">time (min)</text>
<text x="0.40" y="29.60" font-size="18.5" text-anchor="start" >a)</text>
<text x="156.60" y="17.60" font-size="13.6" text-anchor="end" >Bi 4f</text>
<path d="M189,281.6 190.5,266 191.5,250.4 197.7,234.9 208,219.3 214.8,203.7 220.5,188.1 221.4,172.5 223.5,157 224.4,141.4 226.5,125.8 227.4,110.2 227.9,94.6 228.5,79.1 229.2,63.5 230,47.9" fill="none" stroke="#f5a823" stroke-width="0.95" stroke-linejoin="round"/>
<path d="M189,279.4 L191.3,283.2 L186.7,283.2Z" fill="#f5a823"/>
<path d="M190.5,263.8 L192.8,267.6 L188.2,267.6Z" fill="#f5a823"/>
<path d="M191.5,248.3 L193.8,252.1 L189.2,252.1Z" fill="#f5a823"/>
<path d="M197.7,232.7 L200,236.5 L195.4,236.5Z" fill="#f5a823"/>
<path d="M208,217.1 L210.3,220.9 L205.7,220.9Z" fill="#f5a823"/>
<path d="M214.8,201.5 L217.1,205.3 L212.5,205.3Z" fill="#f5a823"/>
<path d="M220.5,185.9 L222.8,189.7 L218.2,189.7Z" fill="#f5a823"/>
<path d="M221.4,170.4 L223.7,174.2 L219.1,174.2Z" fill="#f5a823"/>
<path d="M223.5,154.8 L225.8,158.6 L221.2,158.6Z" fill="#f5a823"/>
<path d="M224.4,139.2 L226.7,143 L222.1,143Z" fill="#f5a823"/>
<path d="M226.5,123.6 L228.8,127.4 L224.2,127.4Z" fill="#f5a823"/>
<path d="M227.4,108 L229.7,111.8 L225.1,111.8Z" fill="#f5a823"/>
<path d="M227.9,92.5 L230.2,96.3 L225.6,96.3Z" fill="#f5a823"/>
<path d="M228.5,76.9 L230.8,80.7 L226.2,80.7Z" fill="#f5a823"/>
<path d="M229.2,61.3 L231.5,65.1 L226.9,65.1Z" fill="#f5a823"/>
<path d="M230,45.7 L232.3,49.5 L227.7,49.5Z" fill="#f5a823"/>
<path d="M226.4,281.6 224.8,266 224.2,250.4 218.6,234.9 208.6,219.3 202.4,203.7 196.2,188.1 193.8,172.5 191.7,157 191.1,141.4 188.2,125.8 186.7,110.2 186.4,94.6 185.2,79.1 184.9,63.5 184.4,47.9" fill="none" stroke="#a3182a" stroke-width="0.95" stroke-linejoin="round"/>
<path d="M226.4,283.8 L228.7,280 L224.1,280Z" fill="#a3182a"/>
<path d="M224.8,268.2 L227.1,264.4 L222.5,264.4Z" fill="#a3182a"/>
<path d="M224.2,252.6 L226.5,248.8 L221.9,248.8Z" fill="#a3182a"/>
<path d="M218.6,237 L220.9,233.2 L216.3,233.2Z" fill="#a3182a"/>
<path d="M208.6,221.5 L210.9,217.7 L206.3,217.7Z" fill="#a3182a"/>
<path d="M202.4,205.9 L204.7,202.1 L200.1,202.1Z" fill="#a3182a"/>
<path d="M196.2,190.3 L198.5,186.5 L193.9,186.5Z" fill="#a3182a"/>
<path d="M193.8,174.7 L196.1,170.9 L191.5,170.9Z" fill="#a3182a"/>
<path d="M191.7,159.1 L194,155.4 L189.4,155.4Z" fill="#a3182a"/>
<path d="M191.1,143.6 L193.4,139.8 L188.8,139.8Z" fill="#a3182a"/>
<path d="M188.2,128 L190.5,124.2 L185.9,124.2Z" fill="#a3182a"/>
<path d="M186.7,112.4 L189,108.6 L184.4,108.6Z" fill="#a3182a"/>
<path d="M186.4,96.8 L188.7,93 L184.1,93Z" fill="#a3182a"/>
<path d="M185.2,81.2 L187.5,77.5 L182.9,77.5Z" fill="#a3182a"/>
<path d="M184.9,65.7 L187.2,61.9 L182.6,61.9Z" fill="#a3182a"/>
<path d="M184.4,50.1 L186.7,46.3 L182.1,46.3Z" fill="#a3182a"/>
<path d="M242.3,281.6 242.3,266 243.5,250.4 243.8,234.9 243.8,219.3 244.4,203.7 242.9,188.1 242.8,172.5 242.8,157 242.8,141.4 242.8,125.8 242.2,110.2 241.6,94.6 241.6,79.1 241.8,63.5 241.9,47.9" fill="none" stroke="#16507a" stroke-width="0.95" stroke-linejoin="round"/>
<circle cx="242.3" cy="281.6" r="1.9" fill="#16507a"/>
<circle cx="242.3" cy="266" r="1.9" fill="#16507a"/>
<circle cx="243.5" cy="250.4" r="1.9" fill="#16507a"/>
<circle cx="243.8" cy="234.9" r="1.9" fill="#16507a"/>
<circle cx="243.8" cy="219.3" r="1.9" fill="#16507a"/>
<circle cx="244.4" cy="203.7" r="1.9" fill="#16507a"/>
<circle cx="242.9" cy="188.1" r="1.9" fill="#16507a"/>
<circle cx="242.8" cy="172.5" r="1.9" fill="#16507a"/>
<circle cx="242.8" cy="157" r="1.9" fill="#16507a"/>
<circle cx="242.8" cy="141.4" r="1.9" fill="#16507a"/>
<circle cx="242.8" cy="125.8" r="1.9" fill="#16507a"/>
<circle cx="242.2" cy="110.2" r="1.9" fill="#16507a"/>
<circle cx="241.6" cy="94.6" r="1.9" fill="#16507a"/>
<circle cx="241.6" cy="79.1" r="1.9" fill="#16507a"/>
<circle cx="241.8" cy="63.5" r="1.9" fill="#16507a"/>
<circle cx="241.9" cy="47.9" r="1.9" fill="#16507a"/>
<line x1="172.9" y1="21.6" x2="250.9" y2="21.6" stroke="#1e1e1e" stroke-width="1.4" />
<line x1="172.9" y1="281.6" x2="250.9" y2="281.6" stroke="#1e1e1e" stroke-width="1.4" />
<line x1="172.9" y1="21.6" x2="172.9" y2="281.6" stroke="#333" stroke-width="1.6" />
<line x1="250.9" y1="21.6" x2="250.9" y2="281.6" stroke="#333" stroke-width="1.5" />
<line x1="173.3" y1="281.6" x2="173.3" y2="288.5" stroke="#1e1e1e" stroke-width="1.3" />
<text x="173.30" y="301.80" font-size="14" text-anchor="middle" >0</text>
<line x1="242.5" y1="281.6" x2="242.5" y2="288.5" stroke="#1e1e1e" stroke-width="1.3" />
<text x="242.50" y="301.80" font-size="14" text-anchor="middle" >1</text>
<text x="212.00" y="317.30" font-size="13.7" text-anchor="middle" >peak integral</text>
<text x="212.10" y="334.90" font-size="13.8" text-anchor="middle" >(arb. u.)</text>
<clipPath id="c3"><rect x="305.6" y="22.3" width="58.00" height="259.20"/></clipPath>
<g clip-path="url(#c3)">
<path d="M304,58.5 305.2,58.7 306.4,59.5 307.6,58.1 308.8,58.1 310,58.1 311.2,56.8 312.4,57.5 313.6,56.1 314.8,54.7 316,50.8 317.2,49.4 318.4,45.2 319.6,42.3 320.8,37.1 322,32 323.2,31.5 324.4,28.3 325.6,24.4 326.8,24.8 328,25.9 329.2,28.4 330.4,35 331.6,39 332.8,44 334,48.2 335.2,51.6 336.4,54.7 337.6,56.2 338.8,58.7 340,58.7 341.2,59.9 342.4,60.4 343.6,61.3 344.8,61 346,60.9 347.2,63.2 348.4,63.6 349.6,63.5 350.8,63.3 352,62.4 353.2,62.4 354.4,62.8 355.6,62.4 356.8,64.5 358,63.7 359.2,65.2 360.4,64.1 361.6,65.9 362.8,65.8 364,63.6 365.2,64.3 L365.2,71.4 L304,71.4Z" fill="#d0e5ce"/>
<path d="M304,58.5 305.2,58.7 306.4,59.5 307.6,58.1 308.8,58.1 310,58.1 311.2,56.8 312.4,57.5 313.6,56.1 314.8,54.7 316,50.8 317.2,49.4 318.4,45.2 319.6,42.3 320.8,37.1 322,32 323.2,31.5 324.4,28.3 325.6,24.4 326.8,24.8 328,25.9 329.2,28.4 330.4,35 331.6,39 332.8,44 334,48.2 335.2,51.6 336.4,54.7 337.6,56.2 338.8,58.7 340,58.7 341.2,59.9 342.4,60.4 343.6,61.3 344.8,61 346,60.9 347.2,63.2 348.4,63.6 349.6,63.5 350.8,63.3 352,62.4 353.2,62.4 354.4,62.8 355.6,62.4 356.8,64.5 358,63.7 359.2,65.2 360.4,64.1 361.6,65.9 362.8,65.8 364,63.6 365.2,64.3" fill="none" stroke="#0f6a10" stroke-width="1.8" stroke-linejoin="round"/>
<path d="M304,86.7 305.2,85.4 306.4,86.7 307.6,84.8 308.8,83.6 310,84.9 311.2,84.6 312.4,82.3 313.6,80.8 314.8,80.5 316,80.4 317.2,76.2 318.4,70.7 319.6,67.4 320.8,63.7 322,60.5 323.2,59.8 324.4,56.2 325.6,55.6 326.8,55.8 328,56.8 329.2,60.5 330.4,62.7 331.6,68.3 332.8,70.3 334,74.1 335.2,76.5 336.4,79.6 337.6,83.6 338.8,85.1 340,85.2 341.2,87.7 342.4,86.6 343.6,87.4 344.8,89 346,88.7 347.2,87.4 348.4,90.2 349.6,88.3 350.8,88.7 352,90.4 353.2,89.4 354.4,89.5 355.6,89.1 356.8,89.4 358,91.1 359.2,90.4 360.4,91.6 361.6,91.2 362.8,91.6 364,93.3 365.2,92.1 L365.2,98.5 L304,98.5Z" fill="#d0e5ce"/>
<path d="M304,86.7 305.2,85.4 306.4,86.7 307.6,84.8 308.8,83.6 310,84.9 311.2,84.6 312.4,82.3 313.6,80.8 314.8,80.5 316,80.4 317.2,76.2 318.4,70.7 319.6,67.4 320.8,63.7 322,60.5 323.2,59.8 324.4,56.2 325.6,55.6 326.8,55.8 328,56.8 329.2,60.5 330.4,62.7 331.6,68.3 332.8,70.3 334,74.1 335.2,76.5 336.4,79.6 337.6,83.6 338.8,85.1 340,85.2 341.2,87.7 342.4,86.6 343.6,87.4 344.8,89 346,88.7 347.2,87.4 348.4,90.2 349.6,88.3 350.8,88.7 352,90.4 353.2,89.4 354.4,89.5 355.6,89.1 356.8,89.4 358,91.1 359.2,90.4 360.4,91.6 361.6,91.2 362.8,91.6 364,93.3 365.2,92.1" fill="none" stroke="#0f6a10" stroke-width="1.8" stroke-linejoin="round"/>
<path d="M304,113.9 305.2,114.6 306.4,112.4 307.6,111.8 308.8,113.4 310,112.6 311.2,110.4 312.4,109.6 313.6,109.1 314.8,107.5 316,103.2 317.2,103 318.4,100.5 319.6,96.3 320.8,91.9 322,87.1 323.2,83.4 324.4,83.5 325.6,79.2 326.8,80.7 328,81 329.2,84.7 330.4,88.5 331.6,92.2 332.8,96.5 334,101.2 335.2,101.8 336.4,104.7 337.6,107.9 338.8,110.7 340,111.3 341.2,111.5 342.4,114.5 343.6,113 344.8,112.9 346,114 347.2,114.9 348.4,114.2 349.6,114.9 350.8,115.8 352,116.7 353.2,115.8 354.4,116.7 355.6,118.4 356.8,118.9 358,118.3 359.2,118.6 360.4,118.6 361.6,117.6 362.8,117.6 364,117.8 365.2,120.4 L365.2,125.5 L304,125.5Z" fill="#d0e5ce"/>
<path d="M304,113.9 305.2,114.6 306.4,112.4 307.6,111.8 308.8,113.4 310,112.6 311.2,110.4 312.4,109.6 313.6,109.1 314.8,107.5 316,103.2 317.2,103 318.4,100.5 319.6,96.3 320.8,91.9 322,87.1 323.2,83.4 324.4,83.5 325.6,79.2 326.8,80.7 328,81 329.2,84.7 330.4,88.5 331.6,92.2 332.8,96.5 334,101.2 335.2,101.8 336.4,104.7 337.6,107.9 338.8,110.7 340,111.3 341.2,111.5 342.4,114.5 343.6,113 344.8,112.9 346,114 347.2,114.9 348.4,114.2 349.6,114.9 350.8,115.8 352,116.7 353.2,115.8 354.4,116.7 355.6,118.4 356.8,118.9 358,118.3 359.2,118.6 360.4,118.6 361.6,117.6 362.8,117.6 364,117.8 365.2,120.4" fill="none" stroke="#0f6a10" stroke-width="1.8" stroke-linejoin="round"/>
<path d="M304,139.2 305.2,139.8 306.4,137 307.6,138.6 308.8,138 310,138.6 311.2,137.2 312.4,138.8 313.6,134.1 314.8,133.1 316,131.1 317.2,129.1 318.4,125.7 319.6,122.2 320.8,119.1 322,116.3 323.2,112.2 324.4,110.7 325.6,110.8 326.8,111.5 328,111.2 329.2,113.6 330.4,118 331.6,121.5 332.8,126 334,128.7 335.2,132.3 336.4,135.3 337.6,136.4 338.8,139.3 340,141.5 341.2,142.3 342.4,143.1 343.6,142.5 344.8,143.8 346,143.6 347.2,143.5 348.4,144.9 349.6,143 350.8,145.2 352,143.4 353.2,145.2 354.4,145.1 355.6,144.6 356.8,146.1 358,145.7 359.2,146.3 360.4,147.3 361.6,145.6 362.8,145.1 364,146.1 365.2,147.3 L365.2,153 L304,153Z" fill="#d0e5ce"/>
<path d="M304,139.2 305.2,139.8 306.4,137 307.6,138.6 308.8,138 310,138.6 311.2,137.2 312.4,138.8 313.6,134.1 314.8,133.1 316,131.1 317.2,129.1 318.4,125.7 319.6,122.2 320.8,119.1 322,116.3 323.2,112.2 324.4,110.7 325.6,110.8 326.8,111.5 328,111.2 329.2,113.6 330.4,118 331.6,121.5 332.8,126 334,128.7 335.2,132.3 336.4,135.3 337.6,136.4 338.8,139.3 340,141.5 341.2,142.3 342.4,143.1 343.6,142.5 344.8,143.8 346,143.6 347.2,143.5 348.4,144.9 349.6,143 350.8,145.2 352,143.4 353.2,145.2 354.4,145.1 355.6,144.6 356.8,146.1 358,145.7 359.2,146.3 360.4,147.3 361.6,145.6 362.8,145.1 364,146.1 365.2,147.3" fill="none" stroke="#0f6a10" stroke-width="1.8" stroke-linejoin="round"/>
<path d="M304,168.4 305.2,168.2 306.4,170 307.6,169 308.8,168.1 310,169 311.2,167 312.4,167.5 313.6,164.2 314.8,162.5 316,161.2 317.2,159.1 318.4,156.7 319.6,151.6 320.8,147.9 322,143 323.2,138.7 324.4,136.7 325.6,134.9 326.8,135.8 328,138.2 329.2,142.1 330.4,145.1 331.6,149.7 332.8,155.4 334,158 335.2,160.1 336.4,162.8 337.6,165.5 338.8,166.6 340,166.5 341.2,168.1 342.4,168.8 343.6,167.8 344.8,167.2 346,167.7 347.2,170.6 348.4,168.8 349.6,171.2 350.8,171.3 352,171.1 353.2,172.6 354.4,170.5 355.6,171 356.8,172 358,170.9 359.2,173.2 360.4,171.7 361.6,171.5 362.8,171.3 364,173.1 365.2,172.7 L365.2,180.1 L304,180.1Z" fill="#d0e5ce"/>
<path d="M304,168.4 305.2,168.2 306.4,170 307.6,169 308.8,168.1 310,169 311.2,167 312.4,167.5 313.6,164.2 314.8,162.5 316,161.2 317.2,159.1 318.4,156.7 319.6,151.6 320.8,147.9 322,143 323.2,138.7 324.4,136.7 325.6,134.9 326.8,135.8 328,138.2 329.2,142.1 330.4,145.1 331.6,149.7 332.8,155.4 334,158 335.2,160.1 336.4,162.8 337.6,165.5 338.8,166.6 340,166.5 341.2,168.1 342.4,168.8 343.6,167.8 344.8,167.2 346,167.7 347.2,170.6 348.4,168.8 349.6,171.2 350.8,171.3 352,171.1 353.2,172.6 354.4,170.5 355.6,171 356.8,172 358,170.9 359.2,173.2 360.4,171.7 361.6,171.5 362.8,171.3 364,173.1 365.2,172.7" fill="none" stroke="#0f6a10" stroke-width="1.8" stroke-linejoin="round"/>
<path d="M304,193.9 305.2,193.9 306.4,194.3 307.6,194.7 308.8,194 310,192.6 311.2,193.4 312.4,192.5 313.6,191 314.8,191.2 316,190.6 317.2,186.8 318.4,183.8 319.6,180.7 320.8,178.4 322,174.4 323.2,171.2 324.4,168.4 325.6,167.2 326.8,169.9 328,167.5 329.2,165.9 330.4,168.4 331.6,169.8 332.8,177 334,182.9 335.2,186.5 336.4,190.2 337.6,191.1 338.8,192 340,193 341.2,193 342.4,193.6 343.6,193.3 344.8,195 346,195 347.2,197.6 348.4,198.6 349.6,198.4 350.8,198.8 352,197.6 353.2,199.8 354.4,200.3 355.6,200.5 356.8,199.5 358,200.4 359.2,199.3 360.4,201.2 361.6,201.3 362.8,200.1 364,199.5 365.2,200.7 L365.2,207.3 L304,207.3Z" fill="#d0e5ce"/>
<path d="M304,193.9 305.2,193.9 306.4,194.3 307.6,194.7 308.8,194 310,192.6 311.2,193.4 312.4,192.5 313.6,191 314.8,191.2 316,190.6 317.2,186.8 318.4,183.8 319.6,180.7 320.8,178.4 322,174.4 323.2,171.2 324.4,168.4 325.6,167.2 326.8,169.9 328,167.5 329.2,165.9 330.4,168.4 331.6,169.8 332.8,177 334,182.9 335.2,186.5 336.4,190.2 337.6,191.1 338.8,192 340,193 341.2,193 342.4,193.6 343.6,193.3 344.8,195 346,195 347.2,197.6 348.4,198.6 349.6,198.4 350.8,198.8 352,197.6 353.2,199.8 354.4,200.3 355.6,200.5 356.8,199.5 358,200.4 359.2,199.3 360.4,201.2 361.6,201.3 362.8,200.1 364,199.5 365.2,200.7" fill="none" stroke="#0f6a10" stroke-width="1.8" stroke-linejoin="round"/>
<path d="M304,221.7 305.2,222.3 306.4,221.2 307.6,219.6 308.8,221.5 310,219 311.2,220.6 312.4,218.4 313.6,217.4 314.8,217.1 316,213.7 317.2,212.1 318.4,211.5 319.6,209.4 320.8,206.7 322,203.3 323.2,201.5 324.4,198.9 325.6,198.9 326.8,195.2 328,194.4 329.2,194.6 330.4,197.1 331.6,201.8 332.8,205.1 334,207.5 335.2,210.8 336.4,212.5 337.6,214.2 338.8,216.2 340,218.4 341.2,219.4 342.4,218.3 343.6,220.8 344.8,221.8 346,221.3 347.2,222.1 348.4,221.7 349.6,223.3 350.8,223.9 352,224.8 353.2,223.5 354.4,226.5 355.6,225.5 356.8,225.5 358,227 359.2,226.6 360.4,226.7 361.6,227.6 362.8,226.1 364,227.7 365.2,227.5 L365.2,234.7 L304,234.7Z" fill="#d0e5ce"/>
<path d="M304,221.7 305.2,222.3 306.4,221.2 307.6,219.6 308.8,221.5 310,219 311.2,220.6 312.4,218.4 313.6,217.4 314.8,217.1 316,213.7 317.2,212.1 318.4,211.5 319.6,209.4 320.8,206.7 322,203.3 323.2,201.5 324.4,198.9 325.6,198.9 326.8,195.2 328,194.4 329.2,194.6 330.4,197.1 331.6,201.8 332.8,205.1 334,207.5 335.2,210.8 336.4,212.5 337.6,214.2 338.8,216.2 340,218.4 341.2,219.4 342.4,218.3 343.6,220.8 344.8,221.8 346,221.3 347.2,222.1 348.4,221.7 349.6,223.3 350.8,223.9 352,224.8 353.2,223.5 354.4,226.5 355.6,225.5 356.8,225.5 358,227 359.2,226.6 360.4,226.7 361.6,227.6 362.8,226.1 364,227.7 365.2,227.5" fill="none" stroke="#0f6a10" stroke-width="1.8" stroke-linejoin="round"/>
<path d="M304,247.1 305.2,247.1 306.4,245.5 307.6,246.5 308.8,246 310,247.3 311.2,248.8 312.4,249.4 313.6,248.6 314.8,248 316,246.2 317.2,245.8 318.4,245 319.6,241.2 320.8,241.4 322,237.8 323.2,236.9 324.4,235.6 325.6,235.5 326.8,233 328,230.9 329.2,229.2 330.4,225.3 331.6,225.8 332.8,224.8 334,226.9 335.2,228.4 336.4,230.9 337.6,234.7 338.8,236.9 340,238.6 341.2,240.7 342.4,242.9 343.6,243.7 344.8,244.9 346,247.2 347.2,248.3 348.4,249.1 349.6,251 350.8,251.4 352,253 353.2,251.7 354.4,253.6 355.6,254.2 356.8,254.9 358,253.7 359.2,254.1 360.4,256.2 361.6,254.6 362.8,257.2 364,257.3 365.2,255.3 L365.2,262.5 L304,262.5Z" fill="#d0e5ce"/>
<path d="M304,247.1 305.2,247.1 306.4,245.5 307.6,246.5 308.8,246 310,247.3 311.2,248.8 312.4,249.4 313.6,248.6 314.8,248 316,246.2 317.2,245.8 318.4,245 319.6,241.2 320.8,241.4 322,237.8 323.2,236.9 324.4,235.6 325.6,235.5 326.8,233 328,230.9 329.2,229.2 330.4,225.3 331.6,225.8 332.8,224.8 334,226.9 335.2,228.4 336.4,230.9 337.6,234.7 338.8,236.9 340,238.6 341.2,240.7 342.4,242.9 343.6,243.7 344.8,244.9 346,247.2 347.2,248.3 348.4,249.1 349.6,251 350.8,251.4 352,253 353.2,251.7 354.4,253.6 355.6,254.2 356.8,254.9 358,253.7 359.2,254.1 360.4,256.2 361.6,254.6 362.8,257.2 364,257.3 365.2,255.3" fill="none" stroke="#0f6a10" stroke-width="1.8" stroke-linejoin="round"/>
<path d="M304,265.7 305.2,267.1 306.4,265.9 307.6,265.7 308.8,268 310,267.2 311.2,270.8 312.4,272.5 313.6,273.6 314.8,274.4 316,272.5 317.2,273 318.4,274.3 319.6,274.7 320.8,274.6 322,271.9 323.2,272.7 324.4,273.1 325.6,272.1 326.8,272.3 328,270.1 329.2,269 330.4,268.2 331.6,266.6 332.8,265.6 334,263.1 335.2,260.8 336.4,257.2 337.6,254.8 338.8,252.3 340,251.8 341.2,251.6 342.4,252.2 343.6,250.9 344.8,253.9 346,259.7 347.2,261.6 348.4,265.3 349.6,266.3 350.8,268.9 352,271.3 353.2,273.3 354.4,275.7 355.6,275.6 356.8,279 358,280.7 359.2,279.3 360.4,280.3 361.6,281.3 362.8,280.6 364,280.1 365.2,280.2 L365.2,281.5 L304,281.5Z" fill="#d0e5ce"/>
<path d="M304,265.7 305.2,267.1 306.4,265.9 307.6,265.7 308.8,268 310,267.2 311.2,270.8 312.4,272.5 313.6,273.6 314.8,274.4 316,272.5 317.2,273 318.4,274.3 319.6,274.7 320.8,274.6 322,271.9 323.2,272.7 324.4,273.1 325.6,272.1 326.8,272.3 328,270.1 329.2,269 330.4,268.2 331.6,266.6 332.8,265.6 334,263.1 335.2,260.8 336.4,257.2 337.6,254.8 338.8,252.3 340,251.8 341.2,251.6 342.4,252.2 343.6,250.9 344.8,253.9 346,259.7 347.2,261.6 348.4,265.3 349.6,266.3 350.8,268.9 352,271.3 353.2,273.3 354.4,275.7 355.6,275.6 356.8,279 358,280.7 359.2,279.3 360.4,280.3 361.6,281.3 362.8,280.6 364,280.1 365.2,280.2" fill="none" stroke="#0f6a10" stroke-width="1.8" stroke-linejoin="round"/>
</g>
<line x1="326.8" y1="22.3" x2="326.8" y2="281.5" stroke="#666" stroke-width="1.2" stroke-dasharray="4.4,4.1"/>
<line x1="342.5" y1="22.3" x2="342.5" y2="281.5" stroke="#333" stroke-width="0.95" stroke-dasharray="4.4,4.1"/>
<line x1="305.6" y1="22.3" x2="363.6" y2="22.3" stroke="#1e1e1e" stroke-width="1.4" />
<line x1="305.6" y1="281.5" x2="363.6" y2="281.5" stroke="#1e1e1e" stroke-width="1.4" />
<line x1="305.6" y1="22.3" x2="305.6" y2="281.5" stroke="#1e1e1e" stroke-width="1.5" />
<line x1="363.6" y1="22.3" x2="363.6" y2="281.5" stroke="#333" stroke-width="1.5" />
<line x1="299.5" y1="281.5" x2="305.6" y2="281.5" stroke="#1e1e1e" stroke-width="1.3" />
<text x="296.60" y="286.10" font-size="14" text-anchor="end" >0</text>
<line x1="299.5" y1="211.43" x2="305.6" y2="211.43" stroke="#1e1e1e" stroke-width="1.3" />
<text x="296.60" y="216.03" font-size="14" text-anchor="end" >2</text>
<line x1="299.5" y1="141.36" x2="305.6" y2="141.36" stroke="#1e1e1e" stroke-width="1.3" />
<text x="296.60" y="145.96" font-size="14" text-anchor="end" >4</text>
<line x1="299.5" y1="71.29000000000002" x2="305.6" y2="71.29000000000002" stroke="#1e1e1e" stroke-width="1.3" />
<text x="296.60" y="75.89" font-size="14" text-anchor="end" >6</text>
<line x1="320.8" y1="281.5" x2="320.8" y2="288.3" stroke="#1e1e1e" stroke-width="1.3" />
<text x="319.80" y="302.20" font-size="14" text-anchor="middle" >46</text>
<line x1="342.1" y1="281.5" x2="342.1" y2="288.3" stroke="#1e1e1e" stroke-width="1.3" />
<text x="341.10" y="302.20" font-size="14" text-anchor="middle" >47</text>
<line x1="363.6" y1="281.5" x2="363.6" y2="288.3" stroke="#1e1e1e" stroke-width="1.3" />
<text x="362.60" y="302.20" font-size="14" text-anchor="middle" >48</text>
<text x="325.50" y="318.00" font-size="14" text-anchor="middle" >kinetic</text>
<text x="324.90" y="334.00" font-size="14" text-anchor="middle" >energy (eV)</text>
<text x="0.00" y="0.00" font-size="14" text-anchor="middle" transform="translate(281.6,152.6) rotate(-90)">time (min)</text>
<text x="263.40" y="28.60" font-size="18.5" text-anchor="start" >b)</text>
<text x="318.8" y="16.0" font-size="14.5" letter-spacing="-0.3">Cl 2p<tspan font-size="9" dy="3.3" letter-spacing="-0.2">3/2</tspan></text>
<defs><linearGradient id="g3" x1="0" y1="0" x2="0" y2="1"><stop offset="0" stop-color="#e5e5e5" stop-opacity="0"/><stop offset="0.55" stop-color="#e5e5e5" stop-opacity="1"/><stop offset="1" stop-color="#e5e5e5"/></linearGradient><linearGradient id="g4" x1="0" y1="0" x2="0" y2="1"><stop offset="0" stop-color="#e5e5e5" stop-opacity="0"/><stop offset="0.13" stop-color="#e5e5e5" stop-opacity="1"/><stop offset="1" stop-color="#e5e5e5"/></linearGradient></defs>
<rect x="407.9" y="258" width="77.90" height="24.30" fill="url(#g3)"/>
<rect x="492.6" y="179" width="77.60" height="103.30" fill="url(#g4)"/>
<line x1="407.9" y1="22.4" x2="407.9" y2="282.3" stroke="#8a8a8a" stroke-width="1.5" />
<clipPath id="c4"><rect x="404.9" y="22.4" width="80.90" height="262.90"/></clipPath>
<g clip-path="url(#c4)">
<path d="M467.3,282.5 453.5,275.4 454,268.3 443.3,261.1 421.5,254 419.7,246.9 419.2,239.8 420.5,232.6 416.9,225.5 415.1,218.4 416.9,211.3 419.2,204.1 412.3,197 408.9,189.9 408.3,182.8 408.3,175.6 408.3,168.5 408.3,161.4 408.3,154.3 408.3,147.1 408.3,140 409.8,132.9 408.3,125.8 408.3,118.6 408.3,111.5 408.3,104.4 408.3,97.3 408.3,90.2 408.3,83 408.3,75.9 408.3,68.8 408.3,61.7 408.3,54.5 408.3,47.4 408.3,40.3" fill="none" stroke="#a3182a" stroke-width="1.1" stroke-linejoin="round"/>
<path d="M467.3,280.2 L469.8,284.2 L464.9,284.2Z" fill="#a3182a"/>
<path d="M453.5,273 L455.9,277.1 L451.1,277.1Z" fill="#a3182a"/>
<path d="M454,265.9 L456.4,270 L451.6,270Z" fill="#a3182a"/>
<path d="M443.3,258.8 L445.8,262.8 L440.9,262.8Z" fill="#a3182a"/>
<path d="M421.5,251.7 L423.9,255.7 L419.1,255.7Z" fill="#a3182a"/>
<path d="M419.7,244.6 L422.1,248.6 L417.2,248.6Z" fill="#a3182a"/>
<path d="M419.2,237.4 L421.6,241.5 L416.8,241.5Z" fill="#a3182a"/>
<path d="M420.5,230.3 L422.9,234.3 L418.1,234.3Z" fill="#a3182a"/>
<path d="M416.9,223.2 L419.3,227.2 L414.4,227.2Z" fill="#a3182a"/>
<path d="M415.1,216.1 L417.6,220.1 L412.7,220.1Z" fill="#a3182a"/>
<path d="M416.9,208.9 L419.3,213 L414.4,213Z" fill="#a3182a"/>
<path d="M419.2,201.8 L421.6,205.9 L416.8,205.9Z" fill="#a3182a"/>
<path d="M412.3,194.7 L414.8,198.7 L409.9,198.7Z" fill="#a3182a"/>
<path d="M408.9,187.6 L411.3,191.6 L406.4,191.6Z" fill="#a3182a"/>
<path d="M408.3,180.4 L410.8,184.5 L405.9,184.5Z" fill="#a3182a"/>
<path d="M408.3,173.3 L410.8,177.4 L405.9,177.4Z" fill="#a3182a"/>
<path d="M408.3,166.2 L410.8,170.2 L405.9,170.2Z" fill="#a3182a"/>
<path d="M408.3,159.1 L410.8,163.1 L405.9,163.1Z" fill="#a3182a"/>
<path d="M408.3,151.9 L410.8,156 L405.9,156Z" fill="#a3182a"/>
<path d="M408.3,144.8 L410.8,148.9 L405.9,148.9Z" fill="#a3182a"/>
<path d="M408.3,137.7 L410.8,141.7 L405.9,141.7Z" fill="#a3182a"/>
<path d="M409.8,130.6 L412.2,134.6 L407.4,134.6Z" fill="#a3182a"/>
<path d="M408.3,123.4 L410.8,127.5 L405.9,127.5Z" fill="#a3182a"/>
<path d="M408.3,116.3 L410.8,120.4 L405.9,120.4Z" fill="#a3182a"/>
<path d="M408.3,109.2 L410.8,113.2 L405.9,113.2Z" fill="#a3182a"/>
<path d="M408.3,102.1 L410.8,106.1 L405.9,106.1Z" fill="#a3182a"/>
<path d="M408.3,94.9 L410.8,99 L405.9,99Z" fill="#a3182a"/>
<path d="M408.3,87.8 L410.8,91.9 L405.9,91.9Z" fill="#a3182a"/>
<path d="M408.3,80.7 L410.8,84.7 L405.9,84.7Z" fill="#a3182a"/>
<path d="M408.3,73.6 L410.8,77.6 L405.9,77.6Z" fill="#a3182a"/>
<path d="M408.3,66.5 L410.8,70.5 L405.9,70.5Z" fill="#a3182a"/>
<path d="M408.3,59.3 L410.8,63.4 L405.9,63.4Z" fill="#a3182a"/>
<path d="M408.3,52.2 L410.8,56.2 L405.9,56.2Z" fill="#a3182a"/>
<path d="M408.3,45.1 L410.8,49.1 L405.9,49.1Z" fill="#a3182a"/>
<path d="M408.3,38 L410.8,42 L405.9,42Z" fill="#a3182a"/>
<path d="M422,282.5 436.2,275.4 435.4,268.3 448,261.1 464.7,254 469.3,246.9 464.2,239.8 464.8,232.6 467.8,225.5 471.4,218.4 463.4,211.3 467.3,204.1 470.6,197 474.7,189.9 473.9,182.8 477.4,175.6" fill="none" stroke="#f5a823" stroke-width="1.1" stroke-linejoin="round"/>
<path d="M422,284.8 L424.4,280.8 L419.6,280.8Z" fill="#f5a823"/>
<path d="M436.2,277.7 L438.6,273.7 L433.8,273.7Z" fill="#f5a823"/>
<path d="M435.4,270.6 L437.8,266.5 L432.9,266.5Z" fill="#f5a823"/>
<path d="M448,263.5 L450.4,259.4 L445.6,259.4Z" fill="#f5a823"/>
<path d="M464.7,256.3 L467.1,252.3 L462.2,252.3Z" fill="#f5a823"/>
<path d="M469.3,249.2 L471.8,245.2 L466.9,245.2Z" fill="#f5a823"/>
<path d="M464.2,242.1 L466.6,238 L461.8,238Z" fill="#f5a823"/>
<path d="M464.8,235 L467.2,230.9 L462.4,230.9Z" fill="#f5a823"/>
<path d="M467.8,227.8 L470.2,223.8 L465.4,223.8Z" fill="#f5a823"/>
<path d="M471.4,220.7 L473.8,216.7 L468.9,216.7Z" fill="#f5a823"/>
<path d="M463.4,213.6 L465.8,209.5 L460.9,209.5Z" fill="#f5a823"/>
<path d="M467.3,206.5 L469.8,202.4 L464.9,202.4Z" fill="#f5a823"/>
<path d="M470.6,199.3 L473.1,195.3 L468.2,195.3Z" fill="#f5a823"/>
<path d="M474.7,192.2 L477.1,188.2 L472.2,188.2Z" fill="#f5a823"/>
<path d="M473.9,185.1 L476.3,181 L471.4,181Z" fill="#f5a823"/>
<path d="M477.4,178 L479.8,173.9 L474.9,173.9Z" fill="#f5a823"/>
<path d="M482,282.5 482.3,275.4 481.5,268.3 482,261.1 479.1,254 480.9,246.9 475.4,239.8 477.5,232.6 477.3,225.5 478.7,218.4 471.8,211.3 478.7,204.1 476.3,197 478.1,189.9 475.1,182.8 477.4,175.6 476.6,168.5 476.9,161.4 478.9,154.3 478.3,147.1 476.4,140 480.5,132.9 476.5,125.8 475.7,118.6 480.5,111.5 476.9,104.4 475.7,97.3 482.2,90.2 475.7,83 476.9,75.9 477.4,68.8 474.8,61.7 475.1,54.5 476.9,47.4 474.8,40.3" fill="none" stroke="#16507a" stroke-width="1.1" stroke-linejoin="round"/>
<circle cx="482" cy="282.5" r="2.1" fill="#16507a"/>
<circle cx="482.3" cy="275.4" r="2.1" fill="#16507a"/>
<circle cx="481.5" cy="268.3" r="2.1" fill="#16507a"/>
<circle cx="482" cy="261.1" r="2.1" fill="#16507a"/>
<circle cx="479.1" cy="254" r="2.1" fill="#16507a"/>
<circle cx="480.9" cy="246.9" r="2.1" fill="#16507a"/>
<circle cx="475.4" cy="239.8" r="2.1" fill="#16507a"/>
<circle cx="477.5" cy="232.6" r="2.1" fill="#16507a"/>
<circle cx="477.3" cy="225.5" r="2.1" fill="#16507a"/>
<circle cx="478.7" cy="218.4" r="2.1" fill="#16507a"/>
<circle cx="471.8" cy="211.3" r="2.1" fill="#16507a"/>
<circle cx="478.7" cy="204.1" r="2.1" fill="#16507a"/>
<circle cx="476.3" cy="197" r="2.1" fill="#16507a"/>
<circle cx="478.1" cy="189.9" r="2.1" fill="#16507a"/>
<circle cx="475.1" cy="182.8" r="2.1" fill="#16507a"/>
<circle cx="477.4" cy="175.6" r="2.1" fill="#16507a"/>
<circle cx="476.6" cy="168.5" r="2.1" fill="#16507a"/>
<circle cx="476.9" cy="161.4" r="2.1" fill="#16507a"/>
<circle cx="478.9" cy="154.3" r="2.1" fill="#16507a"/>
<circle cx="478.3" cy="147.1" r="2.1" fill="#16507a"/>
<circle cx="476.4" cy="140" r="2.1" fill="#16507a"/>
<circle cx="480.5" cy="132.9" r="2.1" fill="#16507a"/>
<circle cx="476.5" cy="125.8" r="2.1" fill="#16507a"/>
<circle cx="475.7" cy="118.6" r="2.1" fill="#16507a"/>
<circle cx="480.5" cy="111.5" r="2.1" fill="#16507a"/>
<circle cx="476.9" cy="104.4" r="2.1" fill="#16507a"/>
<circle cx="475.7" cy="97.3" r="2.1" fill="#16507a"/>
<circle cx="482.2" cy="90.2" r="2.1" fill="#16507a"/>
<circle cx="475.7" cy="83" r="2.1" fill="#16507a"/>
<circle cx="476.9" cy="75.9" r="2.1" fill="#16507a"/>
<circle cx="477.4" cy="68.8" r="2.1" fill="#16507a"/>
<circle cx="474.8" cy="61.7" r="2.1" fill="#16507a"/>
<circle cx="475.1" cy="54.5" r="2.1" fill="#16507a"/>
<circle cx="476.9" cy="47.4" r="2.1" fill="#16507a"/>
<circle cx="474.8" cy="40.3" r="2.1" fill="#16507a"/>
</g>
<clipPath id="c5"><rect x="489.6" y="22.4" width="80.60" height="262.90"/></clipPath>
<g clip-path="url(#c5)">
<path d="M552.3,282.5 551.4,275.4 541.6,268.3 550.2,261.1 544.3,254 548.4,246.9 544.3,239.8 538.1,232.6 547.3,225.5 538.1,218.4 525.6,211.3 519.4,204.1 527.7,197 527.7,189.9 522.9,182.8 523.8,175.6 519.4,168.5 518.1,161.4 512.3,154.3 515.8,147.1 511.7,140 510.5,132.9 505.1,125.8 508.7,118.6 508.2,111.5 507.4,104.4 506.4,97.3 506.9,90.2 506.9,83 497.1,75.9 501.6,68.8 499.3,61.7 498,54.5 498.9,47.4 502.5,40.3" fill="none" stroke="#a3182a" stroke-width="1.1" stroke-linejoin="round"/>
<path d="M552.3,280.2 L554.8,284.2 L549.8,284.2Z" fill="#a3182a"/>
<path d="M551.4,273 L553.9,277.1 L548.9,277.1Z" fill="#a3182a"/>
<path d="M541.6,265.9 L544.1,270 L539.1,270Z" fill="#a3182a"/>
<path d="M550.2,258.8 L552.7,262.8 L547.8,262.8Z" fill="#a3182a"/>
<path d="M544.3,251.7 L546.8,255.7 L541.8,255.7Z" fill="#a3182a"/>
<path d="M548.4,244.6 L550.9,248.6 L545.9,248.6Z" fill="#a3182a"/>
<path d="M544.3,237.4 L546.8,241.5 L541.8,241.5Z" fill="#a3182a"/>
<path d="M538.1,230.3 L540.6,234.3 L535.6,234.3Z" fill="#a3182a"/>
<path d="M547.3,223.2 L549.8,227.2 L544.8,227.2Z" fill="#a3182a"/>
<path d="M538.1,216.1 L540.6,220.1 L535.6,220.1Z" fill="#a3182a"/>
<path d="M525.6,208.9 L528.1,213 L523.1,213Z" fill="#a3182a"/>
<path d="M519.4,201.8 L521.9,205.9 L516.9,205.9Z" fill="#a3182a"/>
<path d="M527.7,194.7 L530.2,198.7 L525.2,198.7Z" fill="#a3182a"/>
<path d="M527.7,187.6 L530.2,191.6 L525.2,191.6Z" fill="#a3182a"/>
<path d="M522.9,180.4 L525.4,184.5 L520.4,184.5Z" fill="#a3182a"/>
<path d="M523.8,173.3 L526.2,177.4 L521.3,177.4Z" fill="#a3182a"/>
<path d="M519.4,166.2 L521.9,170.2 L516.9,170.2Z" fill="#a3182a"/>
<path d="M518.1,159.1 L520.6,163.1 L515.6,163.1Z" fill="#a3182a"/>
<path d="M512.3,151.9 L514.8,156 L509.8,156Z" fill="#a3182a"/>
<path d="M515.8,144.8 L518.2,148.9 L513.3,148.9Z" fill="#a3182a"/>
<path d="M511.7,137.7 L514.1,141.7 L509.2,141.7Z" fill="#a3182a"/>
<path d="M510.5,130.6 L513,134.6 L508.1,134.6Z" fill="#a3182a"/>
<path d="M505.1,123.4 L507.6,127.5 L502.7,127.5Z" fill="#a3182a"/>
<path d="M508.7,116.3 L511.1,120.4 L506.2,120.4Z" fill="#a3182a"/>
<path d="M508.2,109.2 L510.6,113.2 L505.8,113.2Z" fill="#a3182a"/>
<path d="M507.4,102.1 L509.8,106.1 L504.9,106.1Z" fill="#a3182a"/>
<path d="M506.4,94.9 L508.8,99 L503.9,99Z" fill="#a3182a"/>
<path d="M506.9,87.8 L509.3,91.9 L504.4,91.9Z" fill="#a3182a"/>
<path d="M506.9,80.7 L509.3,84.7 L504.4,84.7Z" fill="#a3182a"/>
<path d="M497.1,73.6 L499.6,77.6 L494.7,77.6Z" fill="#a3182a"/>
<path d="M501.6,66.5 L504.1,70.5 L499.2,70.5Z" fill="#a3182a"/>
<path d="M499.3,59.3 L501.8,63.4 L496.9,63.4Z" fill="#a3182a"/>
<path d="M498,52.2 L500.4,56.2 L495.6,56.2Z" fill="#a3182a"/>
<path d="M498.9,45.1 L501.3,49.1 L496.4,49.1Z" fill="#a3182a"/>
<path d="M502.5,38 L504.9,42 L500.1,42Z" fill="#a3182a"/>
<path d="M493.4,282.5 494.5,275.4 493.4,268.3 498.9,261.1 494.5,254 501,246.9 504.2,239.8 506.9,232.6 505.7,225.5 511.4,218.4 513.1,211.3 516.7,204.1 514.9,197 521.2,189.9 530.1,182.8 525.3,175.6 532.7,168.5 535.9,161.4 530.1,154.3 541.3,147.1 531,140 543,132.9 537.7,125.8 535.9,118.6 535.4,111.5 547,104.4 541.6,97.3 550.2,90.2 547.3,83 550.9,75.9 544.3,68.8 553.7,61.7 542.5,54.5 553.7,47.4 542.5,40.3" fill="none" stroke="#f5a823" stroke-width="1.1" stroke-linejoin="round"/>
<path d="M493.4,284.8 L495.8,280.8 L490.9,280.8Z" fill="#f5a823"/>
<path d="M494.5,277.7 L496.9,273.7 L492.1,273.7Z" fill="#f5a823"/>
<path d="M493.4,270.6 L495.8,266.5 L490.9,266.5Z" fill="#f5a823"/>
<path d="M498.9,263.5 L501.3,259.4 L496.4,259.4Z" fill="#f5a823"/>
<path d="M494.5,256.3 L496.9,252.3 L492.1,252.3Z" fill="#f5a823"/>
<path d="M501,249.2 L503.4,245.2 L498.6,245.2Z" fill="#f5a823"/>
<path d="M504.2,242.1 L506.6,238 L501.8,238Z" fill="#f5a823"/>
<path d="M506.9,235 L509.3,230.9 L504.4,230.9Z" fill="#f5a823"/>
<path d="M505.7,227.8 L508.1,223.8 L503.2,223.8Z" fill="#f5a823"/>
<path d="M511.4,220.7 L513.9,216.7 L508.9,216.7Z" fill="#f5a823"/>
<path d="M513.1,213.6 L515.6,209.5 L510.7,209.5Z" fill="#f5a823"/>
<path d="M516.7,206.5 L519.2,202.4 L514.2,202.4Z" fill="#f5a823"/>
<path d="M514.9,199.3 L517.4,195.3 L512.4,195.3Z" fill="#f5a823"/>
<path d="M521.2,192.2 L523.7,188.2 L518.8,188.2Z" fill="#f5a823"/>
<path d="M530.1,185.1 L532.6,181 L527.6,181Z" fill="#f5a823"/>
<path d="M525.3,178 L527.8,173.9 L522.8,173.9Z" fill="#f5a823"/>
<path d="M532.7,170.8 L535.2,166.8 L530.2,166.8Z" fill="#f5a823"/>
<path d="M535.9,163.7 L538.4,159.7 L533.4,159.7Z" fill="#f5a823"/>
<path d="M530.1,156.6 L532.6,152.6 L527.6,152.6Z" fill="#f5a823"/>
<path d="M541.3,149.5 L543.8,145.4 L538.8,145.4Z" fill="#f5a823"/>
<path d="M531,142.3 L533.5,138.3 L528.5,138.3Z" fill="#f5a823"/>
<path d="M543,135.2 L545.5,131.2 L540.5,131.2Z" fill="#f5a823"/>
<path d="M537.7,128.1 L540.2,124.1 L535.2,124.1Z" fill="#f5a823"/>
<path d="M535.9,121 L538.4,116.9 L533.4,116.9Z" fill="#f5a823"/>
<path d="M535.4,113.9 L537.9,109.8 L532.9,109.8Z" fill="#f5a823"/>
<path d="M547,106.7 L549.5,102.7 L544.5,102.7Z" fill="#f5a823"/>
<path d="M541.6,99.6 L544.1,95.6 L539.1,95.6Z" fill="#f5a823"/>
<path d="M550.2,92.5 L552.7,88.4 L547.8,88.4Z" fill="#f5a823"/>
<path d="M547.3,85.4 L549.8,81.3 L544.8,81.3Z" fill="#f5a823"/>
<path d="M550.9,78.2 L553.4,74.2 L548.4,74.2Z" fill="#f5a823"/>
<path d="M544.3,71.1 L546.8,67.1 L541.8,67.1Z" fill="#f5a823"/>
<path d="M553.7,64 L556.2,59.9 L551.2,59.9Z" fill="#f5a823"/>
<path d="M542.5,56.9 L545,52.8 L540,52.8Z" fill="#f5a823"/>
<path d="M553.7,49.7 L556.2,45.7 L551.2,45.7Z" fill="#f5a823"/>
<path d="M542.5,42.6 L545,38.6 L540,38.6Z" fill="#f5a823"/>
<path d="M552.3,282.5 553.2,275.4 540.7,268.3 555.9,261.1 546.1,254 557.3,246.9 557.3,239.8 552.7,232.6 560.9,225.5 558.5,218.4 546.6,211.3 543.4,204.1 550.5,197 561.2,189.9 561.2,182.8 556.8,175.6 561.2,168.5 561.6,161.4 550.5,154.3 563.3,147.1 548.8,140 560.3,132.9 550.5,125.8 552.3,118.6 551.4,111.5 562.1,104.4 555.5,97.3 563,90.2 562.1,83 555.9,75.9 554.1,68.8 560.9,61.7 548.4,54.5 559.4,47.4 552.7,40.3" fill="none" stroke="#16507a" stroke-width="1.1" stroke-linejoin="round"/>
<circle cx="552.3" cy="282.5" r="2.1" fill="#16507a"/>
<circle cx="553.2" cy="275.4" r="2.1" fill="#16507a"/>
<circle cx="540.7" cy="268.3" r="2.1" fill="#16507a"/>
<circle cx="555.9" cy="261.1" r="2.1" fill="#16507a"/>
<circle cx="546.1" cy="254" r="2.1" fill="#16507a"/>
<circle cx="557.3" cy="246.9" r="2.1" fill="#16507a"/>
<circle cx="557.3" cy="239.8" r="2.1" fill="#16507a"/>
<circle cx="552.7" cy="232.6" r="2.1" fill="#16507a"/>
<circle cx="560.9" cy="225.5" r="2.1" fill="#16507a"/>
<circle cx="558.5" cy="218.4" r="2.1" fill="#16507a"/>
<circle cx="546.6" cy="211.3" r="2.1" fill="#16507a"/>
<circle cx="543.4" cy="204.1" r="2.1" fill="#16507a"/>
<circle cx="550.5" cy="197" r="2.1" fill="#16507a"/>
<circle cx="561.2" cy="189.9" r="2.1" fill="#16507a"/>
<circle cx="561.2" cy="182.8" r="2.1" fill="#16507a"/>
<circle cx="556.8" cy="175.6" r="2.1" fill="#16507a"/>
<circle cx="561.2" cy="168.5" r="2.1" fill="#16507a"/>
<circle cx="561.6" cy="161.4" r="2.1" fill="#16507a"/>
<circle cx="550.5" cy="154.3" r="2.1" fill="#16507a"/>
<circle cx="563.3" cy="147.1" r="2.1" fill="#16507a"/>
<circle cx="548.8" cy="140" r="2.1" fill="#16507a"/>
<circle cx="560.3" cy="132.9" r="2.1" fill="#16507a"/>
<circle cx="550.5" cy="125.8" r="2.1" fill="#16507a"/>
<circle cx="552.3" cy="118.6" r="2.1" fill="#16507a"/>
<circle cx="551.4" cy="111.5" r="2.1" fill="#16507a"/>
<circle cx="562.1" cy="104.4" r="2.1" fill="#16507a"/>
<circle cx="555.5" cy="97.3" r="2.1" fill="#16507a"/>
<circle cx="563" cy="90.2" r="2.1" fill="#16507a"/>
<circle cx="562.1" cy="83" r="2.1" fill="#16507a"/>
<circle cx="555.9" cy="75.9" r="2.1" fill="#16507a"/>
<circle cx="554.1" cy="68.8" r="2.1" fill="#16507a"/>
<circle cx="560.9" cy="61.7" r="2.1" fill="#16507a"/>
<circle cx="548.4" cy="54.5" r="2.1" fill="#16507a"/>
<circle cx="559.4" cy="47.4" r="2.1" fill="#16507a"/>
<circle cx="552.7" cy="40.3" r="2.1" fill="#16507a"/>
</g>
<line x1="407.9" y1="22.4" x2="485.8" y2="22.4" stroke="#1e1e1e" stroke-width="1.4" />
<line x1="407.9" y1="282.3" x2="485.8" y2="282.3" stroke="#1e1e1e" stroke-width="1.4" />
<line x1="485.8" y1="22.4" x2="485.8" y2="282.3" stroke="#444" stroke-width="1.6" />
<line x1="492.6" y1="22.4" x2="570.2" y2="22.4" stroke="#1e1e1e" stroke-width="1.4" />
<line x1="492.6" y1="282.3" x2="570.2" y2="282.3" stroke="#1e1e1e" stroke-width="1.4" />
<line x1="492.6" y1="22.4" x2="492.6" y2="282.3" stroke="#1e1e1e" stroke-width="1.4" />
<line x1="570.2" y1="22.4" x2="570.2" y2="282.3" stroke="#1e1e1e" stroke-width="1.4" />
<line x1="401.4" y1="282.3" x2="407.9" y2="282.3" stroke="#1e1e1e" stroke-width="1.3" />
<text x="398.20" y="286.70" font-size="14" text-anchor="end" >0</text>
<line x1="401.4" y1="233.96" x2="407.9" y2="233.96" stroke="#1e1e1e" stroke-width="1.3" />
<text x="398.20" y="238.36" font-size="14" text-anchor="end" >2</text>
<line x1="401.4" y1="185.62" x2="407.9" y2="185.62" stroke="#1e1e1e" stroke-width="1.3" />
<text x="398.20" y="190.02" font-size="14" text-anchor="end" >4</text>
<line x1="401.4" y1="137.28" x2="407.9" y2="137.28" stroke="#1e1e1e" stroke-width="1.3" />
<text x="398.20" y="141.68" font-size="14" text-anchor="end" >6</text>
<line x1="401.4" y1="88.94" x2="407.9" y2="88.94" stroke="#1e1e1e" stroke-width="1.3" />
<text x="398.20" y="93.34" font-size="14" text-anchor="end" >8</text>
<line x1="401.4" y1="40.599999999999994" x2="407.9" y2="40.599999999999994" stroke="#1e1e1e" stroke-width="1.3" />
<text x="398.20" y="45.00" font-size="14" text-anchor="end" >10</text>
<line x1="408.4" y1="282.3" x2="408.4" y2="288.2" stroke="#1e1e1e" stroke-width="1.3" />
<text x="408.40" y="302.20" font-size="14" text-anchor="middle" >0</text>
<line x1="482.3" y1="282.3" x2="482.3" y2="288.2" stroke="#1e1e1e" stroke-width="1.3" />
<text x="482.30" y="302.20" font-size="14" text-anchor="middle" >1</text>
<line x1="492.7" y1="282.3" x2="492.7" y2="288.2" stroke="#1e1e1e" stroke-width="1.3" />
<text x="492.70" y="302.20" font-size="14" text-anchor="middle" >0</text>
<line x1="563.0" y1="282.3" x2="563.0" y2="288.2" stroke="#1e1e1e" stroke-width="1.3" />
<text x="563.00" y="302.20" font-size="14" text-anchor="middle" >1</text>
<text x="491.20" y="317.40" font-size="13.8" text-anchor="middle" >peak integral (arb. u.)</text>
<text x="0.00" y="0.00" font-size="14" text-anchor="middle" transform="translate(384.0,152.6) rotate(-90)">time (min)</text>
<text x="393.2" y="16.5" font-size="14.0">FE: (0.5 mm)<tspan font-size="8.3" dy="-5.2">2</tspan></text>
<text x="498.6" y="16.5" font-size="14.0">(0.25 mm)<tspan font-size="8.3" dy="-5.2">2</tspan></text>
</g></svg>
</body></html>
